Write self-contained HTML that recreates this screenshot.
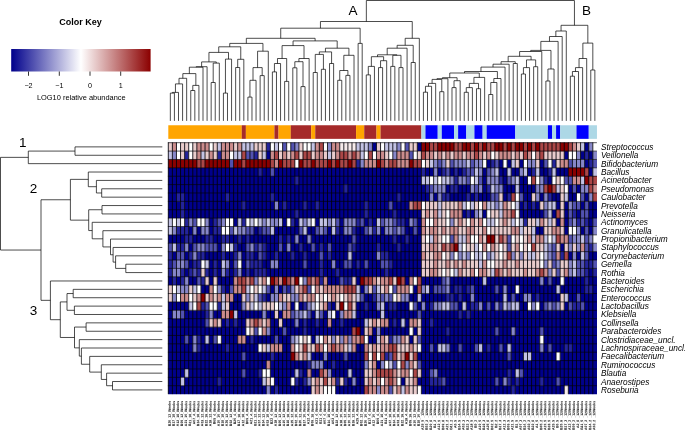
<!DOCTYPE html>
<html><head><meta charset="utf-8"><title>Heatmap</title>
<style>
html,body{margin:0;padding:0;background:#fff;}
body{width:685px;height:431px;position:relative;overflow:hidden;font-family:"Liberation Sans",sans-serif;color:#000;}
.t{position:absolute;white-space:nowrap;line-height:1;}
.rl{position:absolute;left:600.9px;font-style:italic;font-size:8.3px;line-height:10px;height:10px;white-space:nowrap;}
.cl{position:absolute;top:400.9px;font-size:3.3px;line-height:1;white-space:nowrap;transform-origin:0 0;transform:rotate(-90deg) translate(-100%,-50%);font-weight:bold;color:#111;}
</style></head><body>
<svg width="685" height="431" viewBox="0 0 685 431" style="position:absolute;left:0;top:0">
<defs><linearGradient id="kg" x1="0" x2="1" y1="0" y2="0"><stop offset="0" stop-color="#00008b"/><stop offset="0.5" stop-color="#ffffff"/><stop offset="1" stop-color="#8b0000"/></linearGradient></defs>
<rect x="11.2" y="49" width="139.4" height="22.5" fill="url(#kg)"/>
<path d="M28.5 71.5V75.8M59.3 71.5V75.8M90.0 71.5V75.8M120.7 71.5V75.8" stroke="#000" stroke-width="0.8" fill="none"/>
<path d="M372.3 142.6h4.3v8.6h-4.3zM417.2 142.6h4.3v8.6h-4.3zM584.6 142.6h4.3v8.6h-4.3zM266.2 151.0h4.3v8.6h-4.3zM564.1 151.0h4.3v8.6h-4.3zM580.5 151.0h4.3v8.6h-4.3zM588.6 151.0h4.3v8.6h-4.3zM486.6 159.4h4.3v8.6h-4.3zM498.8 159.4h4.3v8.6h-4.3zM507.0 159.4h4.3v8.6h-4.3zM519.2 159.4h4.3v8.6h-4.3zM539.7 159.4h4.3v8.6h-4.3zM584.6 159.4h4.3v8.6h-4.3zM168.2 167.7h90.0v8.6h-90.0zM262.1 167.7h8.4v8.6h-8.4zM274.3 167.7h147.1v8.6h-147.1zM425.4 167.7h8.4v8.6h-8.4zM437.6 167.7h4.3v8.6h-4.3zM449.9 167.7h4.3v8.6h-4.3zM458.0 167.7h4.3v8.6h-4.3zM482.5 167.7h4.3v8.6h-4.3zM498.8 167.7h8.4v8.6h-8.4zM511.1 167.7h8.4v8.6h-8.4zM527.4 167.7h4.3v8.6h-4.3zM539.7 167.7h8.4v8.6h-8.4zM556.0 167.7h12.4v8.6h-12.4zM588.6 167.7h4.3v8.6h-4.3zM168.2 176.1h126.7v8.6h-126.7zM298.8 176.1h122.7v8.6h-122.7zM482.5 176.1h4.3v8.6h-4.3zM502.9 176.1h4.3v8.6h-4.3zM519.2 176.1h8.4v8.6h-8.4zM547.8 176.1h4.3v8.6h-4.3zM168.2 184.5h175.7v8.6h-175.7zM347.8 184.5h77.8v8.6h-77.8zM445.8 184.5h4.3v8.6h-4.3zM458.0 184.5h12.4v8.6h-12.4zM482.5 184.5h4.3v8.6h-4.3zM502.9 184.5h12.4v8.6h-12.4zM519.2 184.5h16.5v8.6h-16.5zM568.2 184.5h4.3v8.6h-4.3zM576.4 184.5h4.3v8.6h-4.3zM168.2 192.9h8.4v8.6h-8.4zM184.5 192.9h41.0v8.6h-41.0zM229.4 192.9h41.0v8.6h-41.0zM274.3 192.9h122.7v8.6h-122.7zM400.9 192.9h28.8v8.6h-28.8zM433.5 192.9h4.3v8.6h-4.3zM449.9 192.9h16.5v8.6h-16.5zM470.3 192.9h4.3v8.6h-4.3zM478.4 192.9h12.4v8.6h-12.4zM502.9 192.9h4.3v8.6h-4.3zM523.3 192.9h8.4v8.6h-8.4zM539.7 192.9h4.3v8.6h-4.3zM551.9 192.9h8.4v8.6h-8.4zM568.2 192.9h8.4v8.6h-8.4zM584.6 192.9h4.3v8.6h-4.3zM168.2 201.3h12.4v8.6h-12.4zM184.5 201.3h57.3v8.6h-57.3zM245.8 201.3h28.8v8.6h-28.8zM278.4 201.3h4.3v8.6h-4.3zM286.6 201.3h16.5v8.6h-16.5zM307.0 201.3h8.4v8.6h-8.4zM319.2 201.3h45.1v8.6h-45.1zM368.2 201.3h20.6v8.6h-20.6zM392.7 201.3h16.5v8.6h-16.5zM519.2 201.3h4.3v8.6h-4.3zM527.4 201.3h4.3v8.6h-4.3zM535.6 201.3h4.3v8.6h-4.3zM556.0 201.3h4.3v8.6h-4.3zM564.1 201.3h4.3v8.6h-4.3zM580.5 201.3h4.3v8.6h-4.3zM588.6 201.3h8.4v8.6h-8.4zM168.2 209.6h12.4v8.6h-12.4zM184.5 209.6h110.4v8.6h-110.4zM298.8 209.6h65.5v8.6h-65.5zM368.2 209.6h24.7v8.6h-24.7zM396.8 209.6h24.7v8.6h-24.7zM462.1 209.6h4.3v8.6h-4.3zM470.3 209.6h4.3v8.6h-4.3zM482.5 209.6h4.3v8.6h-4.3zM519.2 209.6h24.7v8.6h-24.7zM551.9 209.6h4.3v8.6h-4.3zM564.1 209.6h4.3v8.6h-4.3zM576.4 209.6h4.3v8.6h-4.3zM588.6 209.6h8.4v8.6h-8.4zM209.0 218.0h4.3v8.6h-4.3zM233.5 218.0h4.3v8.6h-4.3zM282.5 218.0h4.3v8.6h-4.3zM294.7 218.0h4.3v8.6h-4.3zM315.1 218.0h4.3v8.6h-4.3zM339.6 218.0h4.3v8.6h-4.3zM364.1 218.0h4.3v8.6h-4.3zM372.3 218.0h4.3v8.6h-4.3zM405.0 218.0h4.3v8.6h-4.3zM417.2 218.0h4.3v8.6h-4.3zM556.0 218.0h4.3v8.6h-4.3zM564.1 218.0h4.3v8.6h-4.3zM588.6 218.0h4.3v8.6h-4.3zM188.6 226.4h4.3v8.6h-4.3zM196.8 226.4h4.3v8.6h-4.3zM209.0 226.4h4.3v8.6h-4.3zM253.9 226.4h4.3v8.6h-4.3zM274.3 226.4h24.7v8.6h-24.7zM307.0 226.4h8.4v8.6h-8.4zM327.4 226.4h4.3v8.6h-4.3zM339.6 226.4h4.3v8.6h-4.3zM356.0 226.4h8.4v8.6h-8.4zM380.5 226.4h4.3v8.6h-4.3zM405.0 226.4h8.4v8.6h-8.4zM417.2 226.4h4.3v8.6h-4.3zM535.6 226.4h8.4v8.6h-8.4zM564.1 226.4h4.3v8.6h-4.3zM580.5 226.4h4.3v8.6h-4.3zM588.6 226.4h4.3v8.6h-4.3zM168.2 234.8h16.5v8.6h-16.5zM192.7 234.8h12.4v8.6h-12.4zM213.1 234.8h8.4v8.6h-8.4zM229.4 234.8h8.4v8.6h-8.4zM241.7 234.8h4.3v8.6h-4.3zM249.8 234.8h28.8v8.6h-28.8zM282.5 234.8h4.3v8.6h-4.3zM290.7 234.8h4.3v8.6h-4.3zM298.8 234.8h8.4v8.6h-8.4zM311.1 234.8h41.0v8.6h-41.0zM356.0 234.8h36.9v8.6h-36.9zM396.8 234.8h8.4v8.6h-8.4zM409.0 234.8h12.4v8.6h-12.4zM188.6 243.2h4.3v8.6h-4.3zM217.2 243.2h4.3v8.6h-4.3zM237.6 243.2h8.4v8.6h-8.4zM266.2 243.2h12.4v8.6h-12.4zM282.5 243.2h4.3v8.6h-4.3zM290.7 243.2h8.4v8.6h-8.4zM302.9 243.2h8.4v8.6h-8.4zM315.1 243.2h4.3v8.6h-4.3zM323.3 243.2h4.3v8.6h-4.3zM331.5 243.2h16.5v8.6h-16.5zM356.0 243.2h20.6v8.6h-20.6zM380.5 243.2h16.5v8.6h-16.5zM400.9 243.2h20.6v8.6h-20.6zM560.1 243.2h4.3v8.6h-4.3zM172.3 251.5h4.3v8.6h-4.3zM184.5 251.5h4.3v8.6h-4.3zM204.9 251.5h16.5v8.6h-16.5zM225.3 251.5h8.4v8.6h-8.4zM241.7 251.5h4.3v8.6h-4.3zM253.9 251.5h4.3v8.6h-4.3zM266.2 251.5h8.4v8.6h-8.4zM278.4 251.5h12.4v8.6h-12.4zM294.7 251.5h8.4v8.6h-8.4zM307.0 251.5h12.4v8.6h-12.4zM323.3 251.5h4.3v8.6h-4.3zM331.5 251.5h16.5v8.6h-16.5zM351.9 251.5h24.7v8.6h-24.7zM388.6 251.5h32.9v8.6h-32.9zM568.2 251.5h4.3v8.6h-4.3zM576.4 251.5h4.3v8.6h-4.3zM588.6 251.5h8.4v8.6h-8.4zM188.6 259.9h4.3v8.6h-4.3zM209.0 259.9h4.3v8.6h-4.3zM217.2 259.9h4.3v8.6h-4.3zM229.4 259.9h4.3v8.6h-4.3zM241.7 259.9h4.3v8.6h-4.3zM262.1 259.9h8.4v8.6h-8.4zM278.4 259.9h24.7v8.6h-24.7zM307.0 259.9h12.4v8.6h-12.4zM323.3 259.9h8.4v8.6h-8.4zM335.6 259.9h8.4v8.6h-8.4zM351.9 259.9h4.3v8.6h-4.3zM360.0 259.9h4.3v8.6h-4.3zM368.2 259.9h12.4v8.6h-12.4zM392.7 259.9h28.8v8.6h-28.8zM184.5 268.3h4.3v8.6h-4.3zM209.0 268.3h4.3v8.6h-4.3zM217.2 268.3h4.3v8.6h-4.3zM229.4 268.3h4.3v8.6h-4.3zM241.7 268.3h4.3v8.6h-4.3zM249.8 268.3h4.3v8.6h-4.3zM266.2 268.3h53.3v8.6h-53.3zM323.3 268.3h12.4v8.6h-12.4zM339.6 268.3h45.1v8.6h-45.1zM388.6 268.3h32.9v8.6h-32.9zM588.6 268.3h4.3v8.6h-4.3zM168.2 276.7h4.3v8.6h-4.3zM176.4 276.7h4.3v8.6h-4.3zM188.6 276.7h8.4v8.6h-8.4zM209.0 276.7h4.3v8.6h-4.3zM217.2 276.7h16.5v8.6h-16.5zM327.4 276.7h12.4v8.6h-12.4zM356.0 276.7h4.3v8.6h-4.3zM405.0 276.7h4.3v8.6h-4.3zM421.3 276.7h20.6v8.6h-20.6zM449.9 276.7h32.9v8.6h-32.9zM486.6 276.7h53.3v8.6h-53.3zM543.7 276.7h4.3v8.6h-4.3zM551.9 276.7h8.4v8.6h-8.4zM564.1 276.7h20.6v8.6h-20.6zM588.6 276.7h8.4v8.6h-8.4zM200.9 285.1h8.4v8.6h-8.4zM225.3 285.1h4.3v8.6h-4.3zM270.2 285.1h4.3v8.6h-4.3zM278.4 285.1h4.3v8.6h-4.3zM360.0 285.1h4.3v8.6h-4.3zM413.1 285.1h4.3v8.6h-4.3zM429.4 285.1h4.3v8.6h-4.3zM449.9 285.1h4.3v8.6h-4.3zM462.1 285.1h4.3v8.6h-4.3zM474.3 285.1h20.6v8.6h-20.6zM498.8 285.1h4.3v8.6h-4.3zM507.0 285.1h8.4v8.6h-8.4zM519.2 285.1h36.9v8.6h-36.9zM560.1 285.1h24.7v8.6h-24.7zM592.7 285.1h4.3v8.6h-4.3zM233.5 293.4h8.4v8.6h-8.4zM266.2 293.4h4.3v8.6h-4.3zM364.1 293.4h8.4v8.6h-8.4zM409.0 293.4h8.4v8.6h-8.4zM421.3 293.4h24.7v8.6h-24.7zM453.9 293.4h4.3v8.6h-4.3zM462.1 293.4h8.4v8.6h-8.4zM474.3 293.4h28.8v8.6h-28.8zM507.0 293.4h4.3v8.6h-4.3zM515.2 293.4h8.4v8.6h-8.4zM531.5 293.4h4.3v8.6h-4.3zM539.7 293.4h20.6v8.6h-20.6zM568.2 293.4h8.4v8.6h-8.4zM580.5 293.4h16.5v8.6h-16.5zM168.2 301.8h20.6v8.6h-20.6zM229.4 301.8h12.4v8.6h-12.4zM290.7 301.8h4.3v8.6h-4.3zM298.8 301.8h4.3v8.6h-4.3zM331.5 301.8h4.3v8.6h-4.3zM356.0 301.8h8.4v8.6h-8.4zM368.2 301.8h8.4v8.6h-8.4zM384.5 301.8h4.3v8.6h-4.3zM396.8 301.8h12.4v8.6h-12.4zM417.2 301.8h4.3v8.6h-4.3zM425.4 301.8h4.3v8.6h-4.3zM458.0 301.8h4.3v8.6h-4.3zM466.2 301.8h4.3v8.6h-4.3zM482.5 301.8h4.3v8.6h-4.3zM490.7 301.8h4.3v8.6h-4.3zM519.2 301.8h8.4v8.6h-8.4zM539.7 301.8h4.3v8.6h-4.3zM564.1 301.8h4.3v8.6h-4.3zM584.6 301.8h12.4v8.6h-12.4zM168.2 310.2h4.3v8.6h-4.3zM184.5 310.2h20.6v8.6h-20.6zM213.1 310.2h8.4v8.6h-8.4zM237.6 310.2h24.7v8.6h-24.7zM266.2 310.2h8.4v8.6h-8.4zM278.4 310.2h4.3v8.6h-4.3zM311.1 310.2h4.3v8.6h-4.3zM323.3 310.2h4.3v8.6h-4.3zM335.6 310.2h4.3v8.6h-4.3zM356.0 310.2h24.7v8.6h-24.7zM384.5 310.2h32.9v8.6h-32.9zM421.3 310.2h36.9v8.6h-36.9zM462.1 310.2h4.3v8.6h-4.3zM470.3 310.2h126.7v8.6h-126.7zM168.2 318.6h36.9v8.6h-36.9zM221.3 318.6h4.3v8.6h-4.3zM229.4 318.6h4.3v8.6h-4.3zM237.6 318.6h8.4v8.6h-8.4zM270.2 318.6h8.4v8.6h-8.4zM282.5 318.6h12.4v8.6h-12.4zM298.8 318.6h4.3v8.6h-4.3zM307.0 318.6h8.4v8.6h-8.4zM319.2 318.6h8.4v8.6h-8.4zM331.5 318.6h8.4v8.6h-8.4zM343.7 318.6h20.6v8.6h-20.6zM388.6 318.6h4.3v8.6h-4.3zM396.8 318.6h4.3v8.6h-4.3zM405.0 318.6h4.3v8.6h-4.3zM421.3 318.6h8.4v8.6h-8.4zM433.5 318.6h163.5v8.6h-163.5zM168.2 327.0h77.8v8.6h-77.8zM270.2 327.0h12.4v8.6h-12.4zM286.6 327.0h16.5v8.6h-16.5zM307.0 327.0h45.1v8.6h-45.1zM360.0 327.0h4.3v8.6h-4.3zM372.3 327.0h4.3v8.6h-4.3zM380.5 327.0h28.8v8.6h-28.8zM413.1 327.0h4.3v8.6h-4.3zM421.3 327.0h24.7v8.6h-24.7zM449.9 327.0h45.1v8.6h-45.1zM498.8 327.0h12.4v8.6h-12.4zM515.2 327.0h24.7v8.6h-24.7zM543.7 327.0h53.3v8.6h-53.3zM168.2 335.3h16.5v8.6h-16.5zM188.6 335.3h4.3v8.6h-4.3zM200.9 335.3h4.3v8.6h-4.3zM209.0 335.3h4.3v8.6h-4.3zM221.3 335.3h16.5v8.6h-16.5zM245.8 335.3h4.3v8.6h-4.3zM253.9 335.3h20.6v8.6h-20.6zM278.4 335.3h12.4v8.6h-12.4zM311.1 335.3h4.3v8.6h-4.3zM368.2 335.3h8.4v8.6h-8.4zM409.0 335.3h4.3v8.6h-4.3zM421.3 335.3h118.6v8.6h-118.6zM543.7 335.3h53.3v8.6h-53.3zM168.2 343.7h24.7v8.6h-24.7zM200.9 343.7h24.7v8.6h-24.7zM229.4 343.7h28.8v8.6h-28.8zM282.5 343.7h8.4v8.6h-8.4zM356.0 343.7h8.4v8.6h-8.4zM421.3 343.7h8.4v8.6h-8.4zM433.5 343.7h4.3v8.6h-4.3zM449.9 343.7h8.4v8.6h-8.4zM462.1 343.7h12.4v8.6h-12.4zM482.5 343.7h4.3v8.6h-4.3zM490.7 343.7h8.4v8.6h-8.4zM502.9 343.7h4.3v8.6h-4.3zM511.1 343.7h28.8v8.6h-28.8zM543.7 343.7h4.3v8.6h-4.3zM551.9 343.7h12.4v8.6h-12.4zM572.3 343.7h24.7v8.6h-24.7zM168.2 352.1h73.7v8.6h-73.7zM245.8 352.1h24.7v8.6h-24.7zM274.3 352.1h16.5v8.6h-16.5zM311.1 352.1h12.4v8.6h-12.4zM327.4 352.1h16.5v8.6h-16.5zM347.8 352.1h16.5v8.6h-16.5zM417.2 352.1h90.0v8.6h-90.0zM511.1 352.1h12.4v8.6h-12.4zM531.5 352.1h24.7v8.6h-24.7zM560.1 352.1h36.9v8.6h-36.9zM168.2 360.5h98.2v8.6h-98.2zM270.2 360.5h36.9v8.6h-36.9zM323.3 360.5h8.4v8.6h-8.4zM335.6 360.5h28.8v8.6h-28.8zM376.4 360.5h4.3v8.6h-4.3zM421.3 360.5h175.7v8.6h-175.7zM168.2 368.9h16.5v8.6h-16.5zM188.6 368.9h53.3v8.6h-53.3zM245.8 368.9h12.4v8.6h-12.4zM270.2 368.9h24.7v8.6h-24.7zM302.9 368.9h4.3v8.6h-4.3zM311.1 368.9h8.4v8.6h-8.4zM331.5 368.9h16.5v8.6h-16.5zM351.9 368.9h12.4v8.6h-12.4zM421.3 368.9h8.4v8.6h-8.4zM437.6 368.9h69.6v8.6h-69.6zM511.1 368.9h4.3v8.6h-4.3zM523.3 368.9h73.7v8.6h-73.7zM168.2 377.2h12.4v8.6h-12.4zM184.5 377.2h32.9v8.6h-32.9zM221.3 377.2h41.0v8.6h-41.0zM274.3 377.2h16.5v8.6h-16.5zM298.8 377.2h4.3v8.6h-4.3zM347.8 377.2h4.3v8.6h-4.3zM356.0 377.2h8.4v8.6h-8.4zM400.9 377.2h4.3v8.6h-4.3zM417.2 377.2h12.4v8.6h-12.4zM445.8 377.2h49.2v8.6h-49.2zM498.8 377.2h4.3v8.6h-4.3zM511.1 377.2h4.3v8.6h-4.3zM519.2 377.2h20.6v8.6h-20.6zM543.7 377.2h12.4v8.6h-12.4zM560.1 377.2h36.9v8.6h-36.9zM168.2 385.6h98.2v8.6h-98.2zM270.2 385.6h4.3v8.6h-4.3zM278.4 385.6h32.9v8.6h-32.9zM335.6 385.6h28.8v8.6h-28.8zM421.3 385.6h90.0v8.6h-90.0zM515.2 385.6h49.2v8.6h-49.2zM568.2 385.6h28.8v8.6h-28.8z" fill="#00008b"/>
<path d="M266.2 142.6h4.3v8.6h-4.3zM184.5 151.0h4.3v8.6h-4.3zM217.2 151.0h4.3v8.6h-4.3zM253.9 151.0h4.3v8.6h-4.3zM584.6 151.0h4.3v8.6h-4.3zM356.0 159.4h4.3v8.6h-4.3zM490.7 159.4h4.3v8.6h-4.3zM551.9 159.4h4.3v8.6h-4.3zM588.6 159.4h4.3v8.6h-4.3zM258.0 167.7h4.3v8.6h-4.3zM421.3 167.7h4.3v8.6h-4.3zM441.7 167.7h4.3v8.6h-4.3zM453.9 167.7h4.3v8.6h-4.3zM462.1 167.7h4.3v8.6h-4.3zM531.5 167.7h4.3v8.6h-4.3zM547.8 167.7h4.3v8.6h-4.3zM294.7 176.1h4.3v8.6h-4.3zM453.9 176.1h4.3v8.6h-4.3zM498.8 176.1h4.3v8.6h-4.3zM543.7 176.1h4.3v8.6h-4.3zM343.7 184.5h4.3v8.6h-4.3zM425.4 184.5h4.3v8.6h-4.3zM449.9 184.5h8.4v8.6h-8.4zM486.6 184.5h4.3v8.6h-4.3zM176.4 192.9h8.4v8.6h-8.4zM225.3 192.9h4.3v8.6h-4.3zM270.2 192.9h4.3v8.6h-4.3zM396.8 192.9h4.3v8.6h-4.3zM441.7 192.9h8.4v8.6h-8.4zM466.2 192.9h4.3v8.6h-4.3zM474.3 192.9h4.3v8.6h-4.3zM507.0 192.9h4.3v8.6h-4.3zM547.8 192.9h4.3v8.6h-4.3zM180.4 201.3h4.3v8.6h-4.3zM241.7 201.3h4.3v8.6h-4.3zM282.5 201.3h4.3v8.6h-4.3zM302.9 201.3h4.3v8.6h-4.3zM315.1 201.3h4.3v8.6h-4.3zM364.1 201.3h4.3v8.6h-4.3zM523.3 201.3h4.3v8.6h-4.3zM531.5 201.3h4.3v8.6h-4.3zM180.4 209.6h4.3v8.6h-4.3zM294.7 209.6h4.3v8.6h-4.3zM364.1 209.6h4.3v8.6h-4.3zM392.7 209.6h4.3v8.6h-4.3zM466.2 209.6h4.3v8.6h-4.3zM572.3 209.6h4.3v8.6h-4.3zM184.5 218.0h4.3v8.6h-4.3zM213.1 218.0h4.3v8.6h-4.3zM241.7 218.0h4.3v8.6h-4.3zM290.7 218.0h4.3v8.6h-4.3zM356.0 218.0h4.3v8.6h-4.3zM368.2 218.0h4.3v8.6h-4.3zM396.8 218.0h8.4v8.6h-8.4zM523.3 218.0h4.3v8.6h-4.3zM576.4 218.0h4.3v8.6h-4.3zM584.6 218.0h4.3v8.6h-4.3zM176.4 226.4h12.4v8.6h-12.4zM213.1 226.4h8.4v8.6h-8.4zM258.0 226.4h4.3v8.6h-4.3zM335.6 226.4h4.3v8.6h-4.3zM351.9 226.4h4.3v8.6h-4.3zM372.3 226.4h4.3v8.6h-4.3zM184.5 234.8h8.4v8.6h-8.4zM204.9 234.8h8.4v8.6h-8.4zM221.3 234.8h8.4v8.6h-8.4zM237.6 234.8h4.3v8.6h-4.3zM245.8 234.8h4.3v8.6h-4.3zM278.4 234.8h4.3v8.6h-4.3zM286.6 234.8h4.3v8.6h-4.3zM392.7 234.8h4.3v8.6h-4.3zM405.0 234.8h4.3v8.6h-4.3zM176.4 243.2h8.4v8.6h-8.4zM233.5 243.2h4.3v8.6h-4.3zM253.9 243.2h4.3v8.6h-4.3zM262.1 243.2h4.3v8.6h-4.3zM298.8 243.2h4.3v8.6h-4.3zM319.2 243.2h4.3v8.6h-4.3zM351.9 243.2h4.3v8.6h-4.3zM376.4 243.2h4.3v8.6h-4.3zM396.8 243.2h4.3v8.6h-4.3zM588.6 243.2h4.3v8.6h-4.3zM168.2 251.5h4.3v8.6h-4.3zM188.6 251.5h4.3v8.6h-4.3zM196.8 251.5h8.4v8.6h-8.4zM221.3 251.5h4.3v8.6h-4.3zM233.5 251.5h4.3v8.6h-4.3zM245.8 251.5h8.4v8.6h-8.4zM262.1 251.5h4.3v8.6h-4.3zM274.3 251.5h4.3v8.6h-4.3zM290.7 251.5h4.3v8.6h-4.3zM302.9 251.5h4.3v8.6h-4.3zM327.4 251.5h4.3v8.6h-4.3zM380.5 251.5h8.4v8.6h-8.4zM560.1 251.5h4.3v8.6h-4.3zM168.2 259.9h4.3v8.6h-4.3zM192.7 259.9h8.4v8.6h-8.4zM213.1 259.9h4.3v8.6h-4.3zM249.8 259.9h12.4v8.6h-12.4zM319.2 259.9h4.3v8.6h-4.3zM356.0 259.9h4.3v8.6h-4.3zM388.6 259.9h4.3v8.6h-4.3zM584.6 259.9h8.4v8.6h-8.4zM168.2 268.3h4.3v8.6h-4.3zM180.4 268.3h4.3v8.6h-4.3zM188.6 268.3h4.3v8.6h-4.3zM196.8 268.3h4.3v8.6h-4.3zM204.9 268.3h4.3v8.6h-4.3zM213.1 268.3h4.3v8.6h-4.3zM225.3 268.3h4.3v8.6h-4.3zM233.5 268.3h4.3v8.6h-4.3zM245.8 268.3h4.3v8.6h-4.3zM253.9 268.3h12.4v8.6h-12.4zM319.2 268.3h4.3v8.6h-4.3zM335.6 268.3h4.3v8.6h-4.3zM384.5 268.3h4.3v8.6h-4.3zM584.6 268.3h4.3v8.6h-4.3zM592.7 268.3h4.3v8.6h-4.3zM172.3 276.7h4.3v8.6h-4.3zM180.4 276.7h4.3v8.6h-4.3zM200.9 276.7h4.3v8.6h-4.3zM319.2 276.7h4.3v8.6h-4.3zM343.7 276.7h8.4v8.6h-8.4zM584.6 276.7h4.3v8.6h-4.3zM221.3 285.1h4.3v8.6h-4.3zM286.6 285.1h4.3v8.6h-4.3zM453.9 285.1h8.4v8.6h-8.4zM466.2 285.1h4.3v8.6h-4.3zM584.6 285.1h8.4v8.6h-8.4zM262.1 293.4h4.3v8.6h-4.3zM372.3 293.4h4.3v8.6h-4.3zM445.8 293.4h8.4v8.6h-8.4zM458.0 293.4h4.3v8.6h-4.3zM535.6 293.4h4.3v8.6h-4.3zM200.9 301.8h4.3v8.6h-4.3zM217.2 301.8h4.3v8.6h-4.3zM302.9 301.8h4.3v8.6h-4.3zM327.4 301.8h4.3v8.6h-4.3zM364.1 301.8h4.3v8.6h-4.3zM388.6 301.8h8.4v8.6h-8.4zM429.4 301.8h4.3v8.6h-4.3zM470.3 301.8h8.4v8.6h-8.4zM498.8 301.8h4.3v8.6h-4.3zM572.3 301.8h8.4v8.6h-8.4zM204.9 310.2h4.3v8.6h-4.3zM458.0 310.2h4.3v8.6h-4.3zM466.2 310.2h4.3v8.6h-4.3zM225.3 318.6h4.3v8.6h-4.3zM233.5 318.6h4.3v8.6h-4.3zM302.9 318.6h4.3v8.6h-4.3zM315.1 318.6h4.3v8.6h-4.3zM339.6 318.6h4.3v8.6h-4.3zM392.7 318.6h4.3v8.6h-4.3zM429.4 318.6h4.3v8.6h-4.3zM302.9 327.0h4.3v8.6h-4.3zM445.8 327.0h4.3v8.6h-4.3zM196.8 335.3h4.3v8.6h-4.3zM249.8 335.3h4.3v8.6h-4.3zM388.6 335.3h4.3v8.6h-4.3zM196.8 343.7h4.3v8.6h-4.3zM225.3 343.7h4.3v8.6h-4.3zM486.6 343.7h4.3v8.6h-4.3zM564.1 343.7h8.4v8.6h-8.4zM270.2 352.1h4.3v8.6h-4.3zM384.5 352.1h4.3v8.6h-4.3zM307.0 360.5h4.3v8.6h-4.3zM331.5 360.5h4.3v8.6h-4.3zM258.0 368.9h4.3v8.6h-4.3zM298.8 368.9h4.3v8.6h-4.3zM507.0 368.9h4.3v8.6h-4.3zM217.2 377.2h4.3v8.6h-4.3zM294.7 377.2h4.3v8.6h-4.3zM302.9 377.2h4.3v8.6h-4.3zM335.6 377.2h4.3v8.6h-4.3zM343.7 377.2h4.3v8.6h-4.3zM429.4 377.2h12.4v8.6h-12.4zM507.0 377.2h4.3v8.6h-4.3zM515.2 377.2h4.3v8.6h-4.3zM539.7 377.2h4.3v8.6h-4.3zM274.3 385.6h4.3v8.6h-4.3zM511.1 385.6h4.3v8.6h-4.3z" fill="#24249b"/>
<path d="M282.5 142.6h4.3v8.6h-4.3zM290.7 142.6h4.3v8.6h-4.3zM405.0 142.6h4.3v8.6h-4.3zM245.8 151.0h8.4v8.6h-8.4zM409.0 151.0h4.3v8.6h-4.3zM229.4 159.4h4.3v8.6h-4.3zM437.6 159.4h4.3v8.6h-4.3zM449.9 159.4h4.3v8.6h-4.3zM470.3 159.4h4.3v8.6h-4.3zM494.8 159.4h4.3v8.6h-4.3zM543.7 159.4h4.3v8.6h-4.3zM568.2 159.4h4.3v8.6h-4.3zM592.7 159.4h4.3v8.6h-4.3zM270.2 167.7h4.3v8.6h-4.3zM445.8 167.7h4.3v8.6h-4.3zM466.2 167.7h8.4v8.6h-8.4zM486.6 167.7h4.3v8.6h-4.3zM466.2 176.1h4.3v8.6h-4.3zM478.4 176.1h4.3v8.6h-4.3zM507.0 176.1h4.3v8.6h-4.3zM564.1 176.1h8.4v8.6h-8.4zM429.4 184.5h4.3v8.6h-4.3zM474.3 184.5h4.3v8.6h-4.3zM572.3 184.5h4.3v8.6h-4.3zM490.7 192.9h8.4v8.6h-8.4zM519.2 192.9h4.3v8.6h-4.3zM580.5 192.9h4.3v8.6h-4.3zM388.6 201.3h4.3v8.6h-4.3zM572.3 201.3h8.4v8.6h-8.4zM584.6 201.3h4.3v8.6h-4.3zM543.7 209.6h4.3v8.6h-4.3zM568.2 209.6h4.3v8.6h-4.3zM580.5 209.6h8.4v8.6h-8.4zM192.7 218.0h4.3v8.6h-4.3zM217.2 218.0h4.3v8.6h-4.3zM335.6 218.0h4.3v8.6h-4.3zM360.0 218.0h4.3v8.6h-4.3zM380.5 218.0h4.3v8.6h-4.3zM392.7 218.0h4.3v8.6h-4.3zM413.1 218.0h4.3v8.6h-4.3zM568.2 218.0h4.3v8.6h-4.3zM580.5 218.0h4.3v8.6h-4.3zM592.7 218.0h4.3v8.6h-4.3zM229.4 226.4h4.3v8.6h-4.3zM245.8 226.4h8.4v8.6h-8.4zM262.1 226.4h8.4v8.6h-8.4zM298.8 226.4h4.3v8.6h-4.3zM315.1 226.4h4.3v8.6h-4.3zM323.3 226.4h4.3v8.6h-4.3zM364.1 226.4h4.3v8.6h-4.3zM392.7 226.4h4.3v8.6h-4.3zM400.9 226.4h4.3v8.6h-4.3zM413.1 226.4h4.3v8.6h-4.3zM584.6 226.4h4.3v8.6h-4.3zM351.9 234.8h4.3v8.6h-4.3zM449.9 234.8h4.3v8.6h-4.3zM507.0 234.8h4.3v8.6h-4.3zM568.2 234.8h4.3v8.6h-4.3zM584.6 234.8h4.3v8.6h-4.3zM168.2 243.2h4.3v8.6h-4.3zM192.7 243.2h4.3v8.6h-4.3zM204.9 243.2h12.4v8.6h-12.4zM245.8 243.2h4.3v8.6h-4.3zM258.0 243.2h4.3v8.6h-4.3zM278.4 243.2h4.3v8.6h-4.3zM311.1 243.2h4.3v8.6h-4.3zM327.4 243.2h4.3v8.6h-4.3zM347.8 243.2h4.3v8.6h-4.3zM507.0 243.2h4.3v8.6h-4.3zM551.9 243.2h4.3v8.6h-4.3zM584.6 243.2h4.3v8.6h-4.3zM176.4 251.5h8.4v8.6h-8.4zM258.0 251.5h4.3v8.6h-4.3zM319.2 251.5h4.3v8.6h-4.3zM551.9 251.5h4.3v8.6h-4.3zM584.6 251.5h4.3v8.6h-4.3zM172.3 259.9h4.3v8.6h-4.3zM184.5 259.9h4.3v8.6h-4.3zM233.5 259.9h4.3v8.6h-4.3zM245.8 259.9h4.3v8.6h-4.3zM302.9 259.9h4.3v8.6h-4.3zM343.7 259.9h8.4v8.6h-8.4zM364.1 259.9h4.3v8.6h-4.3zM380.5 259.9h8.4v8.6h-8.4zM551.9 259.9h4.3v8.6h-4.3zM576.4 259.9h8.4v8.6h-8.4zM592.7 259.9h4.3v8.6h-4.3zM192.7 268.3h4.3v8.6h-4.3zM556.0 268.3h4.3v8.6h-4.3zM576.4 268.3h8.4v8.6h-8.4zM196.8 276.7h4.3v8.6h-4.3zM339.6 276.7h4.3v8.6h-4.3zM441.7 276.7h4.3v8.6h-4.3zM547.8 276.7h4.3v8.6h-4.3zM229.4 285.1h4.3v8.6h-4.3zM266.2 285.1h4.3v8.6h-4.3zM282.5 285.1h4.3v8.6h-4.3zM307.0 285.1h4.3v8.6h-4.3zM372.3 285.1h4.3v8.6h-4.3zM392.7 285.1h4.3v8.6h-4.3zM433.5 285.1h12.4v8.6h-12.4zM470.3 285.1h4.3v8.6h-4.3zM494.8 285.1h4.3v8.6h-4.3zM258.0 293.4h4.3v8.6h-4.3zM360.0 293.4h4.3v8.6h-4.3zM380.5 293.4h4.3v8.6h-4.3zM388.6 293.4h4.3v8.6h-4.3zM511.1 293.4h4.3v8.6h-4.3zM576.4 293.4h4.3v8.6h-4.3zM204.9 301.8h4.3v8.6h-4.3zM413.1 301.8h4.3v8.6h-4.3zM449.9 301.8h8.4v8.6h-8.4zM486.6 301.8h4.3v8.6h-4.3zM543.7 301.8h4.3v8.6h-4.3zM551.9 301.8h4.3v8.6h-4.3zM568.2 301.8h4.3v8.6h-4.3zM580.5 301.8h4.3v8.6h-4.3zM180.4 310.2h4.3v8.6h-4.3zM290.7 310.2h4.3v8.6h-4.3zM307.0 310.2h4.3v8.6h-4.3zM319.2 310.2h4.3v8.6h-4.3zM417.2 310.2h4.3v8.6h-4.3zM204.9 318.6h4.3v8.6h-4.3zM253.9 327.0h4.3v8.6h-4.3zM282.5 327.0h4.3v8.6h-4.3zM494.8 327.0h4.3v8.6h-4.3zM539.7 327.0h4.3v8.6h-4.3zM184.5 335.3h4.3v8.6h-4.3zM213.1 335.3h4.3v8.6h-4.3zM274.3 335.3h4.3v8.6h-4.3zM417.2 335.3h4.3v8.6h-4.3zM429.4 343.7h4.3v8.6h-4.3zM458.0 343.7h4.3v8.6h-4.3zM474.3 343.7h4.3v8.6h-4.3zM498.8 343.7h4.3v8.6h-4.3zM547.8 343.7h4.3v8.6h-4.3zM241.7 352.1h4.3v8.6h-4.3zM343.7 352.1h4.3v8.6h-4.3zM388.6 352.1h4.3v8.6h-4.3zM507.0 352.1h4.3v8.6h-4.3zM392.7 360.5h4.3v8.6h-4.3zM417.2 360.5h4.3v8.6h-4.3zM241.7 368.9h4.3v8.6h-4.3zM429.4 368.9h4.3v8.6h-4.3zM519.2 368.9h4.3v8.6h-4.3zM441.7 377.2h4.3v8.6h-4.3zM494.8 377.2h4.3v8.6h-4.3zM556.0 377.2h4.3v8.6h-4.3zM388.6 385.6h4.3v8.6h-4.3z" fill="#5252b0"/>
<path d="M294.7 142.6h4.3v8.6h-4.3zM327.4 142.6h4.3v8.6h-4.3zM368.2 142.6h4.3v8.6h-4.3zM396.8 142.6h4.3v8.6h-4.3zM588.6 142.6h4.3v8.6h-4.3zM172.3 151.0h4.3v8.6h-4.3zM392.7 151.0h4.3v8.6h-4.3zM576.4 151.0h4.3v8.6h-4.3zM592.7 151.0h4.3v8.6h-4.3zM360.0 159.4h4.3v8.6h-4.3zM433.5 159.4h4.3v8.6h-4.3zM441.7 159.4h4.3v8.6h-4.3zM453.9 159.4h12.4v8.6h-12.4zM474.3 159.4h8.4v8.6h-8.4zM527.4 159.4h8.4v8.6h-8.4zM572.3 159.4h12.4v8.6h-12.4zM433.5 167.7h4.3v8.6h-4.3zM478.4 167.7h4.3v8.6h-4.3zM490.7 167.7h4.3v8.6h-4.3zM519.2 167.7h4.3v8.6h-4.3zM449.9 176.1h4.3v8.6h-4.3zM458.0 176.1h8.4v8.6h-8.4zM486.6 176.1h12.4v8.6h-12.4zM511.1 176.1h4.3v8.6h-4.3zM539.7 176.1h4.3v8.6h-4.3zM433.5 184.5h12.4v8.6h-12.4zM470.3 184.5h4.3v8.6h-4.3zM478.4 184.5h4.3v8.6h-4.3zM494.8 184.5h8.4v8.6h-8.4zM535.6 184.5h8.4v8.6h-8.4zM580.5 184.5h8.4v8.6h-8.4zM429.4 192.9h4.3v8.6h-4.3zM437.6 192.9h4.3v8.6h-4.3zM535.6 192.9h4.3v8.6h-4.3zM543.7 192.9h4.3v8.6h-4.3zM588.6 192.9h4.3v8.6h-4.3zM274.3 201.3h4.3v8.6h-4.3zM494.8 201.3h4.3v8.6h-4.3zM543.7 201.3h4.3v8.6h-4.3zM568.2 201.3h4.3v8.6h-4.3zM474.3 209.6h4.3v8.6h-4.3zM188.6 218.0h4.3v8.6h-4.3zM204.9 218.0h4.3v8.6h-4.3zM221.3 218.0h4.3v8.6h-4.3zM262.1 218.0h4.3v8.6h-4.3zM270.2 218.0h8.4v8.6h-8.4zM302.9 218.0h4.3v8.6h-4.3zM327.4 218.0h4.3v8.6h-4.3zM343.7 218.0h12.4v8.6h-12.4zM384.5 218.0h8.4v8.6h-8.4zM409.0 218.0h4.3v8.6h-4.3zM449.9 218.0h4.3v8.6h-4.3zM572.3 218.0h4.3v8.6h-4.3zM172.3 226.4h4.3v8.6h-4.3zM192.7 226.4h4.3v8.6h-4.3zM200.9 226.4h8.4v8.6h-8.4zM237.6 226.4h8.4v8.6h-8.4zM319.2 226.4h4.3v8.6h-4.3zM343.7 226.4h8.4v8.6h-8.4zM368.2 226.4h4.3v8.6h-4.3zM376.4 226.4h4.3v8.6h-4.3zM384.5 226.4h8.4v8.6h-8.4zM396.8 226.4h4.3v8.6h-4.3zM576.4 226.4h4.3v8.6h-4.3zM592.7 226.4h4.3v8.6h-4.3zM294.7 234.8h4.3v8.6h-4.3zM307.0 234.8h4.3v8.6h-4.3zM572.3 234.8h8.4v8.6h-8.4zM588.6 234.8h4.3v8.6h-4.3zM184.5 243.2h4.3v8.6h-4.3zM196.8 243.2h8.4v8.6h-8.4zM221.3 243.2h4.3v8.6h-4.3zM249.8 243.2h4.3v8.6h-4.3zM286.6 243.2h4.3v8.6h-4.3zM547.8 243.2h4.3v8.6h-4.3zM568.2 243.2h4.3v8.6h-4.3zM576.4 243.2h4.3v8.6h-4.3zM592.7 243.2h4.3v8.6h-4.3zM192.7 251.5h4.3v8.6h-4.3zM237.6 251.5h4.3v8.6h-4.3zM376.4 251.5h4.3v8.6h-4.3zM449.9 251.5h4.3v8.6h-4.3zM458.0 251.5h4.3v8.6h-4.3zM466.2 251.5h4.3v8.6h-4.3zM486.6 251.5h4.3v8.6h-4.3zM511.1 251.5h4.3v8.6h-4.3zM519.2 251.5h4.3v8.6h-4.3zM547.8 251.5h4.3v8.6h-4.3zM572.3 251.5h4.3v8.6h-4.3zM176.4 259.9h8.4v8.6h-8.4zM225.3 259.9h4.3v8.6h-4.3zM270.2 259.9h8.4v8.6h-8.4zM331.5 259.9h4.3v8.6h-4.3zM543.7 259.9h4.3v8.6h-4.3zM556.0 259.9h4.3v8.6h-4.3zM568.2 259.9h4.3v8.6h-4.3zM172.3 268.3h8.4v8.6h-8.4zM221.3 268.3h4.3v8.6h-4.3zM237.6 268.3h4.3v8.6h-4.3zM547.8 268.3h4.3v8.6h-4.3zM568.2 268.3h4.3v8.6h-4.3zM184.5 276.7h4.3v8.6h-4.3zM253.9 276.7h4.3v8.6h-4.3zM302.9 276.7h4.3v8.6h-4.3zM445.8 276.7h4.3v8.6h-4.3zM539.7 276.7h4.3v8.6h-4.3zM180.4 285.1h8.4v8.6h-8.4zM217.2 285.1h4.3v8.6h-4.3zM274.3 285.1h4.3v8.6h-4.3zM290.7 285.1h4.3v8.6h-4.3zM364.1 285.1h4.3v8.6h-4.3zM421.3 285.1h4.3v8.6h-4.3zM445.8 285.1h4.3v8.6h-4.3zM502.9 285.1h4.3v8.6h-4.3zM172.3 293.4h4.3v8.6h-4.3zM245.8 293.4h4.3v8.6h-4.3zM270.2 293.4h8.4v8.6h-8.4zM290.7 293.4h8.4v8.6h-8.4zM376.4 293.4h4.3v8.6h-4.3zM384.5 293.4h4.3v8.6h-4.3zM400.9 293.4h8.4v8.6h-8.4zM470.3 293.4h4.3v8.6h-4.3zM523.3 293.4h8.4v8.6h-8.4zM241.7 301.8h4.3v8.6h-4.3zM282.5 301.8h4.3v8.6h-4.3zM307.0 301.8h4.3v8.6h-4.3zM376.4 301.8h4.3v8.6h-4.3zM421.3 301.8h4.3v8.6h-4.3zM433.5 301.8h8.4v8.6h-8.4zM478.4 301.8h4.3v8.6h-4.3zM494.8 301.8h4.3v8.6h-4.3zM507.0 301.8h4.3v8.6h-4.3zM531.5 301.8h4.3v8.6h-4.3zM547.8 301.8h4.3v8.6h-4.3zM556.0 301.8h4.3v8.6h-4.3zM172.3 310.2h8.4v8.6h-8.4zM209.0 310.2h4.3v8.6h-4.3zM262.1 310.2h4.3v8.6h-4.3zM294.7 310.2h8.4v8.6h-8.4zM339.6 310.2h4.3v8.6h-4.3zM294.7 318.6h4.3v8.6h-4.3zM266.2 327.0h4.3v8.6h-4.3zM376.4 327.0h4.3v8.6h-4.3zM511.1 327.0h4.3v8.6h-4.3zM192.7 335.3h4.3v8.6h-4.3zM290.7 335.3h4.3v8.6h-4.3zM331.5 335.3h4.3v8.6h-4.3zM339.6 335.3h4.3v8.6h-4.3zM347.8 335.3h4.3v8.6h-4.3zM392.7 335.3h8.4v8.6h-8.4zM192.7 343.7h4.3v8.6h-4.3zM445.8 343.7h4.3v8.6h-4.3zM539.7 343.7h4.3v8.6h-4.3zM323.3 352.1h4.3v8.6h-4.3zM311.1 360.5h12.4v8.6h-12.4zM364.1 360.5h4.3v8.6h-4.3zM380.5 360.5h4.3v8.6h-4.3zM405.0 360.5h4.3v8.6h-4.3zM327.4 368.9h4.3v8.6h-4.3zM433.5 368.9h4.3v8.6h-4.3zM307.0 377.2h4.3v8.6h-4.3zM351.9 377.2h4.3v8.6h-4.3zM502.9 377.2h4.3v8.6h-4.3zM266.2 385.6h4.3v8.6h-4.3zM376.4 385.6h4.3v8.6h-4.3z" fill="#8787c8"/>
<path d="M217.2 142.6h4.3v8.6h-4.3zM241.7 142.6h12.4v8.6h-12.4zM274.3 142.6h4.3v8.6h-4.3zM311.1 142.6h4.3v8.6h-4.3zM356.0 142.6h12.4v8.6h-12.4zM384.5 142.6h12.4v8.6h-12.4zM580.5 142.6h4.3v8.6h-4.3zM168.2 151.0h4.3v8.6h-4.3zM200.9 151.0h4.3v8.6h-4.3zM233.5 151.0h8.4v8.6h-8.4zM262.1 151.0h4.3v8.6h-4.3zM327.4 151.0h4.3v8.6h-4.3zM360.0 151.0h4.3v8.6h-4.3zM429.4 159.4h4.3v8.6h-4.3zM466.2 159.4h4.3v8.6h-4.3zM511.1 159.4h4.3v8.6h-4.3zM474.3 167.7h4.3v8.6h-4.3zM494.8 167.7h4.3v8.6h-4.3zM507.0 167.7h4.3v8.6h-4.3zM523.3 167.7h4.3v8.6h-4.3zM535.6 167.7h4.3v8.6h-4.3zM551.9 167.7h4.3v8.6h-4.3zM592.7 167.7h4.3v8.6h-4.3zM421.3 176.1h8.4v8.6h-8.4zM433.5 176.1h4.3v8.6h-4.3zM441.7 176.1h8.4v8.6h-8.4zM474.3 176.1h4.3v8.6h-4.3zM515.2 176.1h4.3v8.6h-4.3zM580.5 176.1h4.3v8.6h-4.3zM490.7 184.5h4.3v8.6h-4.3zM515.2 184.5h4.3v8.6h-4.3zM556.0 184.5h4.3v8.6h-4.3zM564.1 192.9h4.3v8.6h-4.3zM437.6 201.3h4.3v8.6h-4.3zM462.1 201.3h4.3v8.6h-4.3zM470.3 201.3h4.3v8.6h-4.3zM486.6 201.3h8.4v8.6h-8.4zM498.8 201.3h4.3v8.6h-4.3zM515.2 201.3h4.3v8.6h-4.3zM547.8 201.3h8.4v8.6h-8.4zM437.6 209.6h4.3v8.6h-4.3zM478.4 209.6h4.3v8.6h-4.3zM498.8 209.6h4.3v8.6h-4.3zM547.8 209.6h4.3v8.6h-4.3zM168.2 218.0h4.3v8.6h-4.3zM176.4 218.0h4.3v8.6h-4.3zM237.6 218.0h4.3v8.6h-4.3zM249.8 218.0h4.3v8.6h-4.3zM258.0 218.0h4.3v8.6h-4.3zM266.2 218.0h4.3v8.6h-4.3zM278.4 218.0h4.3v8.6h-4.3zM298.8 218.0h4.3v8.6h-4.3zM307.0 218.0h4.3v8.6h-4.3zM319.2 218.0h8.4v8.6h-8.4zM331.5 218.0h4.3v8.6h-4.3zM376.4 218.0h4.3v8.6h-4.3zM486.6 218.0h8.4v8.6h-8.4zM511.1 218.0h4.3v8.6h-4.3zM519.2 218.0h4.3v8.6h-4.3zM535.6 218.0h4.3v8.6h-4.3zM547.8 218.0h4.3v8.6h-4.3zM168.2 226.4h4.3v8.6h-4.3zM233.5 226.4h4.3v8.6h-4.3zM270.2 226.4h4.3v8.6h-4.3zM302.9 226.4h4.3v8.6h-4.3zM331.5 226.4h4.3v8.6h-4.3zM519.2 226.4h4.3v8.6h-4.3zM531.5 226.4h4.3v8.6h-4.3zM429.4 234.8h4.3v8.6h-4.3zM458.0 234.8h8.4v8.6h-8.4zM531.5 234.8h4.3v8.6h-4.3zM543.7 234.8h4.3v8.6h-4.3zM551.9 234.8h4.3v8.6h-4.3zM580.5 234.8h4.3v8.6h-4.3zM172.3 243.2h4.3v8.6h-4.3zM229.4 243.2h4.3v8.6h-4.3zM458.0 243.2h4.3v8.6h-4.3zM474.3 243.2h4.3v8.6h-4.3zM543.7 243.2h4.3v8.6h-4.3zM347.8 251.5h4.3v8.6h-4.3zM462.1 251.5h4.3v8.6h-4.3zM474.3 251.5h8.4v8.6h-8.4zM490.7 251.5h4.3v8.6h-4.3zM527.4 251.5h8.4v8.6h-8.4zM543.7 251.5h4.3v8.6h-4.3zM580.5 251.5h4.3v8.6h-4.3zM204.9 259.9h4.3v8.6h-4.3zM221.3 259.9h4.3v8.6h-4.3zM478.4 259.9h4.3v8.6h-4.3zM572.3 259.9h4.3v8.6h-4.3zM453.9 268.3h4.3v8.6h-4.3zM490.7 268.3h4.3v8.6h-4.3zM572.3 268.3h4.3v8.6h-4.3zM482.5 276.7h4.3v8.6h-4.3zM176.4 285.1h4.3v8.6h-4.3zM192.7 285.1h4.3v8.6h-4.3zM245.8 285.1h4.3v8.6h-4.3zM262.1 285.1h4.3v8.6h-4.3zM356.0 285.1h4.3v8.6h-4.3zM376.4 285.1h4.3v8.6h-4.3zM425.4 285.1h4.3v8.6h-4.3zM556.0 285.1h4.3v8.6h-4.3zM221.3 293.4h4.3v8.6h-4.3zM253.9 293.4h4.3v8.6h-4.3zM356.0 293.4h4.3v8.6h-4.3zM417.2 293.4h4.3v8.6h-4.3zM502.9 293.4h4.3v8.6h-4.3zM564.1 293.4h4.3v8.6h-4.3zM188.6 301.8h4.3v8.6h-4.3zM221.3 301.8h4.3v8.6h-4.3zM249.8 301.8h4.3v8.6h-4.3zM258.0 301.8h4.3v8.6h-4.3zM278.4 301.8h4.3v8.6h-4.3zM311.1 301.8h4.3v8.6h-4.3zM380.5 301.8h4.3v8.6h-4.3zM441.7 301.8h8.4v8.6h-8.4zM462.1 301.8h4.3v8.6h-4.3zM502.9 301.8h4.3v8.6h-4.3zM511.1 301.8h8.4v8.6h-8.4zM233.5 310.2h4.3v8.6h-4.3zM302.9 310.2h4.3v8.6h-4.3zM315.1 310.2h4.3v8.6h-4.3zM327.4 310.2h4.3v8.6h-4.3zM351.9 310.2h4.3v8.6h-4.3zM380.5 310.2h4.3v8.6h-4.3zM364.1 318.6h4.3v8.6h-4.3zM400.9 318.6h4.3v8.6h-4.3zM204.9 335.3h4.3v8.6h-4.3zM294.7 335.3h4.3v8.6h-4.3zM315.1 335.3h4.3v8.6h-4.3zM376.4 335.3h4.3v8.6h-4.3zM266.2 343.7h4.3v8.6h-4.3zM347.8 343.7h4.3v8.6h-4.3zM437.6 343.7h8.4v8.6h-8.4zM478.4 343.7h4.3v8.6h-4.3zM507.0 343.7h4.3v8.6h-4.3zM307.0 352.1h4.3v8.6h-4.3zM523.3 352.1h8.4v8.6h-8.4zM388.6 360.5h4.3v8.6h-4.3zM184.5 368.9h4.3v8.6h-4.3zM294.7 368.9h4.3v8.6h-4.3zM347.8 368.9h4.3v8.6h-4.3zM515.2 368.9h4.3v8.6h-4.3zM180.4 377.2h4.3v8.6h-4.3zM262.1 377.2h4.3v8.6h-4.3zM400.9 385.6h4.3v8.6h-4.3z" fill="#c2c2e3"/>
<path d="M176.4 142.6h4.3v8.6h-4.3zM188.6 142.6h4.3v8.6h-4.3zM209.0 142.6h4.3v8.6h-4.3zM270.2 142.6h4.3v8.6h-4.3zM278.4 142.6h4.3v8.6h-4.3zM286.6 142.6h4.3v8.6h-4.3zM302.9 142.6h8.4v8.6h-8.4zM323.3 142.6h4.3v8.6h-4.3zM380.5 142.6h4.3v8.6h-4.3zM400.9 142.6h4.3v8.6h-4.3zM592.7 142.6h4.3v8.6h-4.3zM176.4 151.0h4.3v8.6h-4.3zM188.6 151.0h4.3v8.6h-4.3zM229.4 151.0h4.3v8.6h-4.3zM364.1 151.0h4.3v8.6h-4.3zM372.3 151.0h4.3v8.6h-4.3zM388.6 151.0h4.3v8.6h-4.3zM413.1 151.0h4.3v8.6h-4.3zM490.7 151.0h4.3v8.6h-4.3zM531.5 151.0h4.3v8.6h-4.3zM568.2 151.0h8.4v8.6h-8.4zM294.7 159.4h4.3v8.6h-4.3zM421.3 159.4h4.3v8.6h-4.3zM482.5 159.4h4.3v8.6h-4.3zM502.9 159.4h4.3v8.6h-4.3zM523.3 159.4h4.3v8.6h-4.3zM547.8 159.4h4.3v8.6h-4.3zM429.4 176.1h4.3v8.6h-4.3zM437.6 176.1h4.3v8.6h-4.3zM470.3 176.1h4.3v8.6h-4.3zM527.4 176.1h4.3v8.6h-4.3zM535.6 176.1h4.3v8.6h-4.3zM551.9 176.1h4.3v8.6h-4.3zM560.1 176.1h4.3v8.6h-4.3zM564.1 184.5h4.3v8.6h-4.3zM515.2 192.9h4.3v8.6h-4.3zM576.4 192.9h4.3v8.6h-4.3zM421.3 201.3h4.3v8.6h-4.3zM466.2 201.3h4.3v8.6h-4.3zM478.4 201.3h4.3v8.6h-4.3zM511.1 201.3h4.3v8.6h-4.3zM445.8 209.6h4.3v8.6h-4.3zM486.6 209.6h4.3v8.6h-4.3zM515.2 209.6h4.3v8.6h-4.3zM172.3 218.0h4.3v8.6h-4.3zM180.4 218.0h4.3v8.6h-4.3zM196.8 218.0h8.4v8.6h-8.4zM225.3 218.0h8.4v8.6h-8.4zM245.8 218.0h4.3v8.6h-4.3zM253.9 218.0h4.3v8.6h-4.3zM286.6 218.0h4.3v8.6h-4.3zM311.1 218.0h4.3v8.6h-4.3zM425.4 218.0h8.4v8.6h-8.4zM445.8 218.0h4.3v8.6h-4.3zM466.2 218.0h4.3v8.6h-4.3zM482.5 218.0h4.3v8.6h-4.3zM494.8 218.0h4.3v8.6h-4.3zM515.2 218.0h4.3v8.6h-4.3zM221.3 226.4h8.4v8.6h-8.4zM486.6 226.4h4.3v8.6h-4.3zM568.2 226.4h8.4v8.6h-8.4zM425.4 234.8h4.3v8.6h-4.3zM441.7 234.8h8.4v8.6h-8.4zM470.3 234.8h8.4v8.6h-8.4zM511.1 234.8h4.3v8.6h-4.3zM519.2 234.8h4.3v8.6h-4.3zM547.8 234.8h4.3v8.6h-4.3zM592.7 234.8h4.3v8.6h-4.3zM225.3 243.2h4.3v8.6h-4.3zM462.1 243.2h4.3v8.6h-4.3zM478.4 243.2h4.3v8.6h-4.3zM486.6 243.2h4.3v8.6h-4.3zM498.8 243.2h4.3v8.6h-4.3zM519.2 243.2h4.3v8.6h-4.3zM527.4 243.2h4.3v8.6h-4.3zM441.7 251.5h4.3v8.6h-4.3zM453.9 251.5h4.3v8.6h-4.3zM470.3 251.5h4.3v8.6h-4.3zM482.5 251.5h4.3v8.6h-4.3zM498.8 251.5h4.3v8.6h-4.3zM539.7 251.5h4.3v8.6h-4.3zM200.9 259.9h4.3v8.6h-4.3zM237.6 259.9h4.3v8.6h-4.3zM486.6 259.9h8.4v8.6h-8.4zM539.7 259.9h4.3v8.6h-4.3zM441.7 268.3h4.3v8.6h-4.3zM449.9 268.3h4.3v8.6h-4.3zM474.3 268.3h4.3v8.6h-4.3zM266.2 276.7h4.3v8.6h-4.3zM298.8 276.7h4.3v8.6h-4.3zM413.1 276.7h4.3v8.6h-4.3zM560.1 276.7h4.3v8.6h-4.3zM172.3 285.1h4.3v8.6h-4.3zM196.8 285.1h4.3v8.6h-4.3zM213.1 285.1h4.3v8.6h-4.3zM249.8 285.1h4.3v8.6h-4.3zM258.0 285.1h4.3v8.6h-4.3zM311.1 285.1h4.3v8.6h-4.3zM388.6 285.1h4.3v8.6h-4.3zM409.0 285.1h4.3v8.6h-4.3zM515.2 285.1h4.3v8.6h-4.3zM176.4 293.4h4.3v8.6h-4.3zM188.6 293.4h4.3v8.6h-4.3zM315.1 293.4h4.3v8.6h-4.3zM323.3 293.4h4.3v8.6h-4.3zM339.6 293.4h4.3v8.6h-4.3zM392.7 293.4h4.3v8.6h-4.3zM192.7 301.8h4.3v8.6h-4.3zM209.0 301.8h8.4v8.6h-8.4zM253.9 301.8h4.3v8.6h-4.3zM274.3 301.8h4.3v8.6h-4.3zM294.7 301.8h4.3v8.6h-4.3zM315.1 301.8h4.3v8.6h-4.3zM343.7 301.8h4.3v8.6h-4.3zM409.0 301.8h4.3v8.6h-4.3zM527.4 301.8h4.3v8.6h-4.3zM535.6 301.8h4.3v8.6h-4.3zM331.5 310.2h4.3v8.6h-4.3zM245.8 327.0h4.3v8.6h-4.3zM258.0 327.0h4.3v8.6h-4.3zM409.0 327.0h4.3v8.6h-4.3zM217.2 335.3h4.3v8.6h-4.3zM298.8 335.3h4.3v8.6h-4.3zM307.0 335.3h4.3v8.6h-4.3zM319.2 335.3h4.3v8.6h-4.3zM364.1 335.3h4.3v8.6h-4.3zM539.7 335.3h4.3v8.6h-4.3zM258.0 343.7h4.3v8.6h-4.3zM294.7 343.7h4.3v8.6h-4.3zM323.3 343.7h4.3v8.6h-4.3zM417.2 343.7h4.3v8.6h-4.3zM368.2 352.1h4.3v8.6h-4.3zM376.4 352.1h4.3v8.6h-4.3zM556.0 352.1h4.3v8.6h-4.3zM384.5 360.5h4.3v8.6h-4.3zM396.8 360.5h4.3v8.6h-4.3zM262.1 368.9h8.4v8.6h-8.4zM409.0 368.9h4.3v8.6h-4.3zM270.2 377.2h4.3v8.6h-4.3zM290.7 377.2h4.3v8.6h-4.3zM380.5 377.2h4.3v8.6h-4.3zM396.8 377.2h4.3v8.6h-4.3zM323.3 385.6h12.4v8.6h-12.4zM417.2 385.6h4.3v8.6h-4.3z" fill="#ffffff"/>
<path d="M168.2 142.6h4.3v8.6h-4.3zM180.4 142.6h8.4v8.6h-8.4zM192.7 142.6h4.3v8.6h-4.3zM213.1 142.6h4.3v8.6h-4.3zM233.5 142.6h4.3v8.6h-4.3zM253.9 142.6h12.4v8.6h-12.4zM298.8 142.6h4.3v8.6h-4.3zM376.4 142.6h4.3v8.6h-4.3zM409.0 142.6h8.4v8.6h-8.4zM576.4 142.6h4.3v8.6h-4.3zM180.4 151.0h4.3v8.6h-4.3zM192.7 151.0h4.3v8.6h-4.3zM204.9 151.0h4.3v8.6h-4.3zM213.1 151.0h4.3v8.6h-4.3zM258.0 151.0h4.3v8.6h-4.3zM278.4 151.0h4.3v8.6h-4.3zM286.6 151.0h4.3v8.6h-4.3zM298.8 151.0h4.3v8.6h-4.3zM311.1 151.0h4.3v8.6h-4.3zM323.3 151.0h4.3v8.6h-4.3zM331.5 151.0h4.3v8.6h-4.3zM384.5 151.0h4.3v8.6h-4.3zM417.2 151.0h4.3v8.6h-4.3zM433.5 151.0h4.3v8.6h-4.3zM441.7 151.0h4.3v8.6h-4.3zM449.9 151.0h4.3v8.6h-4.3zM462.1 151.0h4.3v8.6h-4.3zM482.5 151.0h4.3v8.6h-4.3zM494.8 151.0h4.3v8.6h-4.3zM511.1 151.0h4.3v8.6h-4.3zM519.2 151.0h4.3v8.6h-4.3zM543.7 151.0h20.6v8.6h-20.6zM425.4 159.4h4.3v8.6h-4.3zM445.8 159.4h4.3v8.6h-4.3zM515.2 159.4h4.3v8.6h-4.3zM535.6 159.4h4.3v8.6h-4.3zM556.0 159.4h4.3v8.6h-4.3zM556.0 176.1h4.3v8.6h-4.3zM560.1 184.5h4.3v8.6h-4.3zM498.8 192.9h4.3v8.6h-4.3zM531.5 192.9h4.3v8.6h-4.3zM560.1 192.9h4.3v8.6h-4.3zM425.4 201.3h12.4v8.6h-12.4zM441.7 201.3h16.5v8.6h-16.5zM474.3 201.3h4.3v8.6h-4.3zM507.0 201.3h4.3v8.6h-4.3zM539.7 201.3h4.3v8.6h-4.3zM560.1 201.3h4.3v8.6h-4.3zM421.3 209.6h4.3v8.6h-4.3zM429.4 209.6h4.3v8.6h-4.3zM441.7 209.6h4.3v8.6h-4.3zM490.7 209.6h8.4v8.6h-8.4zM560.1 209.6h4.3v8.6h-4.3zM437.6 218.0h8.4v8.6h-8.4zM453.9 218.0h4.3v8.6h-4.3zM462.1 218.0h4.3v8.6h-4.3zM474.3 218.0h4.3v8.6h-4.3zM498.8 218.0h4.3v8.6h-4.3zM507.0 218.0h4.3v8.6h-4.3zM527.4 218.0h8.4v8.6h-8.4zM543.7 218.0h4.3v8.6h-4.3zM551.9 218.0h4.3v8.6h-4.3zM425.4 226.4h4.3v8.6h-4.3zM437.6 226.4h4.3v8.6h-4.3zM445.8 226.4h4.3v8.6h-4.3zM458.0 226.4h8.4v8.6h-8.4zM474.3 226.4h8.4v8.6h-8.4zM490.7 226.4h20.6v8.6h-20.6zM523.3 226.4h8.4v8.6h-8.4zM543.7 226.4h8.4v8.6h-8.4zM560.1 226.4h4.3v8.6h-4.3zM421.3 234.8h4.3v8.6h-4.3zM437.6 234.8h4.3v8.6h-4.3zM482.5 234.8h4.3v8.6h-4.3zM494.8 234.8h4.3v8.6h-4.3zM515.2 234.8h4.3v8.6h-4.3zM523.3 234.8h4.3v8.6h-4.3zM421.3 243.2h8.4v8.6h-8.4zM437.6 243.2h4.3v8.6h-4.3zM466.2 243.2h8.4v8.6h-8.4zM494.8 243.2h4.3v8.6h-4.3zM502.9 243.2h4.3v8.6h-4.3zM511.1 243.2h4.3v8.6h-4.3zM523.3 243.2h4.3v8.6h-4.3zM535.6 243.2h8.4v8.6h-8.4zM556.0 243.2h4.3v8.6h-4.3zM564.1 243.2h4.3v8.6h-4.3zM572.3 243.2h4.3v8.6h-4.3zM425.4 251.5h8.4v8.6h-8.4zM445.8 251.5h4.3v8.6h-4.3zM494.8 251.5h4.3v8.6h-4.3zM502.9 251.5h4.3v8.6h-4.3zM515.2 251.5h4.3v8.6h-4.3zM523.3 251.5h4.3v8.6h-4.3zM535.6 251.5h4.3v8.6h-4.3zM421.3 259.9h12.4v8.6h-12.4zM437.6 259.9h8.4v8.6h-8.4zM449.9 259.9h4.3v8.6h-4.3zM458.0 259.9h4.3v8.6h-4.3zM466.2 259.9h12.4v8.6h-12.4zM494.8 259.9h8.4v8.6h-8.4zM507.0 259.9h8.4v8.6h-8.4zM519.2 259.9h20.6v8.6h-20.6zM547.8 259.9h4.3v8.6h-4.3zM560.1 259.9h8.4v8.6h-8.4zM200.9 268.3h4.3v8.6h-4.3zM421.3 268.3h8.4v8.6h-8.4zM437.6 268.3h4.3v8.6h-4.3zM445.8 268.3h4.3v8.6h-4.3zM462.1 268.3h8.4v8.6h-8.4zM486.6 268.3h4.3v8.6h-4.3zM502.9 268.3h4.3v8.6h-4.3zM511.1 268.3h12.4v8.6h-12.4zM527.4 268.3h8.4v8.6h-8.4zM551.9 268.3h4.3v8.6h-4.3zM560.1 268.3h4.3v8.6h-4.3zM204.9 276.7h4.3v8.6h-4.3zM213.1 276.7h4.3v8.6h-4.3zM258.0 276.7h4.3v8.6h-4.3zM351.9 276.7h4.3v8.6h-4.3zM376.4 276.7h4.3v8.6h-4.3zM392.7 276.7h4.3v8.6h-4.3zM168.2 285.1h4.3v8.6h-4.3zM188.6 285.1h4.3v8.6h-4.3zM253.9 285.1h4.3v8.6h-4.3zM294.7 285.1h4.3v8.6h-4.3zM319.2 285.1h4.3v8.6h-4.3zM368.2 285.1h4.3v8.6h-4.3zM380.5 285.1h4.3v8.6h-4.3zM168.2 293.4h4.3v8.6h-4.3zM192.7 293.4h4.3v8.6h-4.3zM204.9 293.4h4.3v8.6h-4.3zM213.1 293.4h4.3v8.6h-4.3zM241.7 293.4h4.3v8.6h-4.3zM249.8 293.4h4.3v8.6h-4.3zM282.5 293.4h8.4v8.6h-8.4zM302.9 293.4h4.3v8.6h-4.3zM319.2 293.4h4.3v8.6h-4.3zM327.4 293.4h4.3v8.6h-4.3zM335.6 293.4h4.3v8.6h-4.3zM343.7 293.4h4.3v8.6h-4.3zM351.9 293.4h4.3v8.6h-4.3zM396.8 293.4h4.3v8.6h-4.3zM560.1 293.4h4.3v8.6h-4.3zM225.3 301.8h4.3v8.6h-4.3zM245.8 301.8h4.3v8.6h-4.3zM262.1 301.8h12.4v8.6h-12.4zM319.2 301.8h4.3v8.6h-4.3zM335.6 301.8h4.3v8.6h-4.3zM351.9 301.8h4.3v8.6h-4.3zM560.1 301.8h4.3v8.6h-4.3zM274.3 310.2h4.3v8.6h-4.3zM209.0 318.6h4.3v8.6h-4.3zM217.2 318.6h4.3v8.6h-4.3zM245.8 318.6h4.3v8.6h-4.3zM262.1 318.6h4.3v8.6h-4.3zM278.4 318.6h4.3v8.6h-4.3zM368.2 318.6h4.3v8.6h-4.3zM376.4 318.6h4.3v8.6h-4.3zM417.2 318.6h4.3v8.6h-4.3zM249.8 327.0h4.3v8.6h-4.3zM364.1 327.0h4.3v8.6h-4.3zM417.2 327.0h4.3v8.6h-4.3zM302.9 335.3h4.3v8.6h-4.3zM327.4 335.3h4.3v8.6h-4.3zM335.6 335.3h4.3v8.6h-4.3zM384.5 335.3h4.3v8.6h-4.3zM405.0 335.3h4.3v8.6h-4.3zM413.1 335.3h4.3v8.6h-4.3zM262.1 343.7h4.3v8.6h-4.3zM298.8 343.7h4.3v8.6h-4.3zM307.0 343.7h8.4v8.6h-8.4zM343.7 343.7h4.3v8.6h-4.3zM368.2 343.7h4.3v8.6h-4.3zM376.4 343.7h4.3v8.6h-4.3zM396.8 343.7h12.4v8.6h-12.4zM413.1 343.7h4.3v8.6h-4.3zM298.8 352.1h4.3v8.6h-4.3zM396.8 352.1h4.3v8.6h-4.3zM409.0 352.1h4.3v8.6h-4.3zM368.2 360.5h4.3v8.6h-4.3zM413.1 360.5h4.3v8.6h-4.3zM364.1 368.9h8.4v8.6h-8.4zM396.8 368.9h4.3v8.6h-4.3zM417.2 368.9h4.3v8.6h-4.3zM266.2 377.2h4.3v8.6h-4.3zM311.1 377.2h4.3v8.6h-4.3zM319.2 377.2h4.3v8.6h-4.3zM327.4 377.2h4.3v8.6h-4.3zM339.6 377.2h4.3v8.6h-4.3zM364.1 377.2h4.3v8.6h-4.3zM372.3 377.2h4.3v8.6h-4.3zM405.0 377.2h8.4v8.6h-8.4zM311.1 385.6h4.3v8.6h-4.3zM319.2 385.6h4.3v8.6h-4.3zM392.7 385.6h4.3v8.6h-4.3zM409.0 385.6h8.4v8.6h-8.4z" fill="#e8cccc"/>
<path d="M172.3 142.6h4.3v8.6h-4.3zM196.8 142.6h12.4v8.6h-12.4zM221.3 142.6h12.4v8.6h-12.4zM237.6 142.6h4.3v8.6h-4.3zM315.1 142.6h4.3v8.6h-4.3zM331.5 142.6h8.4v8.6h-8.4zM572.3 142.6h4.3v8.6h-4.3zM196.8 151.0h4.3v8.6h-4.3zM209.0 151.0h4.3v8.6h-4.3zM221.3 151.0h8.4v8.6h-8.4zM270.2 151.0h4.3v8.6h-4.3zM282.5 151.0h4.3v8.6h-4.3zM290.7 151.0h4.3v8.6h-4.3zM315.1 151.0h8.4v8.6h-8.4zM335.6 151.0h4.3v8.6h-4.3zM347.8 151.0h4.3v8.6h-4.3zM356.0 151.0h4.3v8.6h-4.3zM376.4 151.0h8.4v8.6h-8.4zM396.8 151.0h12.4v8.6h-12.4zM425.4 151.0h8.4v8.6h-8.4zM437.6 151.0h4.3v8.6h-4.3zM445.8 151.0h4.3v8.6h-4.3zM453.9 151.0h8.4v8.6h-8.4zM466.2 151.0h8.4v8.6h-8.4zM478.4 151.0h4.3v8.6h-4.3zM486.6 151.0h4.3v8.6h-4.3zM498.8 151.0h12.4v8.6h-12.4zM515.2 151.0h4.3v8.6h-4.3zM527.4 151.0h4.3v8.6h-4.3zM535.6 151.0h4.3v8.6h-4.3zM274.3 159.4h4.3v8.6h-4.3zM364.1 159.4h12.4v8.6h-12.4zM384.5 159.4h4.3v8.6h-4.3zM396.8 159.4h12.4v8.6h-12.4zM560.1 159.4h8.4v8.6h-8.4zM572.3 176.1h8.4v8.6h-8.4zM592.7 184.5h4.3v8.6h-4.3zM409.0 201.3h4.3v8.6h-4.3zM458.0 201.3h4.3v8.6h-4.3zM482.5 201.3h4.3v8.6h-4.3zM502.9 201.3h4.3v8.6h-4.3zM425.4 209.6h4.3v8.6h-4.3zM433.5 209.6h4.3v8.6h-4.3zM449.9 209.6h12.4v8.6h-12.4zM502.9 209.6h8.4v8.6h-8.4zM421.3 218.0h4.3v8.6h-4.3zM433.5 218.0h4.3v8.6h-4.3zM458.0 218.0h4.3v8.6h-4.3zM470.3 218.0h4.3v8.6h-4.3zM478.4 218.0h4.3v8.6h-4.3zM502.9 218.0h4.3v8.6h-4.3zM539.7 218.0h4.3v8.6h-4.3zM560.1 218.0h4.3v8.6h-4.3zM421.3 226.4h4.3v8.6h-4.3zM429.4 226.4h8.4v8.6h-8.4zM441.7 226.4h4.3v8.6h-4.3zM449.9 226.4h8.4v8.6h-8.4zM466.2 226.4h8.4v8.6h-8.4zM482.5 226.4h4.3v8.6h-4.3zM511.1 226.4h8.4v8.6h-8.4zM551.9 226.4h8.4v8.6h-8.4zM433.5 234.8h4.3v8.6h-4.3zM453.9 234.8h4.3v8.6h-4.3zM466.2 234.8h4.3v8.6h-4.3zM478.4 234.8h4.3v8.6h-4.3zM502.9 234.8h4.3v8.6h-4.3zM527.4 234.8h4.3v8.6h-4.3zM535.6 234.8h8.4v8.6h-8.4zM560.1 234.8h8.4v8.6h-8.4zM429.4 243.2h8.4v8.6h-8.4zM445.8 243.2h4.3v8.6h-4.3zM482.5 243.2h4.3v8.6h-4.3zM490.7 243.2h4.3v8.6h-4.3zM515.2 243.2h4.3v8.6h-4.3zM580.5 243.2h4.3v8.6h-4.3zM421.3 251.5h4.3v8.6h-4.3zM433.5 251.5h8.4v8.6h-8.4zM556.0 251.5h4.3v8.6h-4.3zM433.5 259.9h4.3v8.6h-4.3zM445.8 259.9h4.3v8.6h-4.3zM453.9 259.9h4.3v8.6h-4.3zM462.1 259.9h4.3v8.6h-4.3zM482.5 259.9h4.3v8.6h-4.3zM502.9 259.9h4.3v8.6h-4.3zM515.2 259.9h4.3v8.6h-4.3zM429.4 268.3h8.4v8.6h-8.4zM458.0 268.3h4.3v8.6h-4.3zM470.3 268.3h4.3v8.6h-4.3zM478.4 268.3h8.4v8.6h-8.4zM498.8 268.3h4.3v8.6h-4.3zM507.0 268.3h4.3v8.6h-4.3zM523.3 268.3h4.3v8.6h-4.3zM535.6 268.3h4.3v8.6h-4.3zM543.7 268.3h4.3v8.6h-4.3zM564.1 268.3h4.3v8.6h-4.3zM233.5 276.7h4.3v8.6h-4.3zM245.8 276.7h4.3v8.6h-4.3zM262.1 276.7h4.3v8.6h-4.3zM278.4 276.7h4.3v8.6h-4.3zM290.7 276.7h4.3v8.6h-4.3zM311.1 276.7h4.3v8.6h-4.3zM323.3 276.7h4.3v8.6h-4.3zM372.3 276.7h4.3v8.6h-4.3zM380.5 276.7h8.4v8.6h-8.4zM409.0 276.7h4.3v8.6h-4.3zM209.0 285.1h4.3v8.6h-4.3zM233.5 285.1h8.4v8.6h-8.4zM298.8 285.1h4.3v8.6h-4.3zM315.1 285.1h4.3v8.6h-4.3zM323.3 285.1h20.6v8.6h-20.6zM384.5 285.1h4.3v8.6h-4.3zM396.8 285.1h12.4v8.6h-12.4zM180.4 293.4h8.4v8.6h-8.4zM196.8 293.4h4.3v8.6h-4.3zM209.0 293.4h4.3v8.6h-4.3zM217.2 293.4h4.3v8.6h-4.3zM225.3 293.4h8.4v8.6h-8.4zM278.4 293.4h4.3v8.6h-4.3zM298.8 293.4h4.3v8.6h-4.3zM307.0 293.4h8.4v8.6h-8.4zM331.5 293.4h4.3v8.6h-4.3zM347.8 293.4h4.3v8.6h-4.3zM286.6 301.8h4.3v8.6h-4.3zM323.3 301.8h4.3v8.6h-4.3zM221.3 310.2h8.4v8.6h-8.4zM282.5 310.2h8.4v8.6h-8.4zM343.7 310.2h8.4v8.6h-8.4zM213.1 318.6h4.3v8.6h-4.3zM249.8 318.6h4.3v8.6h-4.3zM258.0 318.6h4.3v8.6h-4.3zM266.2 318.6h4.3v8.6h-4.3zM327.4 318.6h4.3v8.6h-4.3zM372.3 318.6h4.3v8.6h-4.3zM380.5 318.6h8.4v8.6h-8.4zM409.0 318.6h8.4v8.6h-8.4zM262.1 327.0h4.3v8.6h-4.3zM368.2 327.0h4.3v8.6h-4.3zM237.6 335.3h8.4v8.6h-8.4zM323.3 335.3h4.3v8.6h-4.3zM343.7 335.3h4.3v8.6h-4.3zM351.9 335.3h8.4v8.6h-8.4zM380.5 335.3h4.3v8.6h-4.3zM400.9 335.3h4.3v8.6h-4.3zM270.2 343.7h12.4v8.6h-12.4zM290.7 343.7h4.3v8.6h-4.3zM319.2 343.7h4.3v8.6h-4.3zM327.4 343.7h4.3v8.6h-4.3zM335.6 343.7h8.4v8.6h-8.4zM351.9 343.7h4.3v8.6h-4.3zM364.1 343.7h4.3v8.6h-4.3zM372.3 343.7h4.3v8.6h-4.3zM380.5 343.7h8.4v8.6h-8.4zM409.0 343.7h4.3v8.6h-4.3zM294.7 352.1h4.3v8.6h-4.3zM302.9 352.1h4.3v8.6h-4.3zM400.9 352.1h4.3v8.6h-4.3zM266.2 360.5h4.3v8.6h-4.3zM372.3 360.5h4.3v8.6h-4.3zM409.0 360.5h4.3v8.6h-4.3zM307.0 368.9h4.3v8.6h-4.3zM323.3 368.9h4.3v8.6h-4.3zM372.3 368.9h4.3v8.6h-4.3zM392.7 368.9h4.3v8.6h-4.3zM400.9 368.9h8.4v8.6h-8.4zM315.1 377.2h4.3v8.6h-4.3zM331.5 377.2h4.3v8.6h-4.3zM368.2 377.2h4.3v8.6h-4.3zM376.4 377.2h4.3v8.6h-4.3zM384.5 377.2h4.3v8.6h-4.3zM392.7 377.2h4.3v8.6h-4.3zM413.1 377.2h4.3v8.6h-4.3zM315.1 385.6h4.3v8.6h-4.3zM368.2 385.6h8.4v8.6h-8.4zM380.5 385.6h8.4v8.6h-8.4zM396.8 385.6h4.3v8.6h-4.3zM405.0 385.6h4.3v8.6h-4.3z" fill="#cb8c8c"/>
<path d="M319.2 142.6h4.3v8.6h-4.3zM429.4 142.6h8.4v8.6h-8.4zM453.9 142.6h8.4v8.6h-8.4zM470.3 142.6h4.3v8.6h-4.3zM478.4 142.6h4.3v8.6h-4.3zM486.6 142.6h8.4v8.6h-8.4zM502.9 142.6h4.3v8.6h-4.3zM511.1 142.6h4.3v8.6h-4.3zM523.3 142.6h4.3v8.6h-4.3zM531.5 142.6h4.3v8.6h-4.3zM539.7 142.6h20.6v8.6h-20.6zM568.2 142.6h4.3v8.6h-4.3zM241.7 151.0h4.3v8.6h-4.3zM274.3 151.0h4.3v8.6h-4.3zM294.7 151.0h4.3v8.6h-4.3zM302.9 151.0h8.4v8.6h-8.4zM339.6 151.0h8.4v8.6h-8.4zM351.9 151.0h4.3v8.6h-4.3zM368.2 151.0h4.3v8.6h-4.3zM421.3 151.0h4.3v8.6h-4.3zM474.3 151.0h4.3v8.6h-4.3zM523.3 151.0h4.3v8.6h-4.3zM539.7 151.0h4.3v8.6h-4.3zM196.8 159.4h8.4v8.6h-8.4zM241.7 159.4h4.3v8.6h-4.3zM270.2 159.4h4.3v8.6h-4.3zM282.5 159.4h12.4v8.6h-12.4zM302.9 159.4h8.4v8.6h-8.4zM315.1 159.4h12.4v8.6h-12.4zM331.5 159.4h4.3v8.6h-4.3zM339.6 159.4h8.4v8.6h-8.4zM351.9 159.4h4.3v8.6h-4.3zM380.5 159.4h4.3v8.6h-4.3zM388.6 159.4h8.4v8.6h-8.4zM413.1 159.4h8.4v8.6h-8.4zM584.6 167.7h4.3v8.6h-4.3zM531.5 176.1h4.3v8.6h-4.3zM588.6 176.1h8.4v8.6h-8.4zM543.7 184.5h4.3v8.6h-4.3zM551.9 184.5h4.3v8.6h-4.3zM588.6 184.5h4.3v8.6h-4.3zM511.1 192.9h4.3v8.6h-4.3zM592.7 192.9h4.3v8.6h-4.3zM413.1 201.3h8.4v8.6h-8.4zM511.1 209.6h4.3v8.6h-4.3zM556.0 209.6h4.3v8.6h-4.3zM498.8 234.8h4.3v8.6h-4.3zM556.0 234.8h4.3v8.6h-4.3zM441.7 243.2h4.3v8.6h-4.3zM449.9 243.2h4.3v8.6h-4.3zM531.5 243.2h4.3v8.6h-4.3zM507.0 251.5h4.3v8.6h-4.3zM564.1 251.5h4.3v8.6h-4.3zM494.8 268.3h4.3v8.6h-4.3zM539.7 268.3h4.3v8.6h-4.3zM237.6 276.7h8.4v8.6h-8.4zM249.8 276.7h4.3v8.6h-4.3zM274.3 276.7h4.3v8.6h-4.3zM286.6 276.7h4.3v8.6h-4.3zM307.0 276.7h4.3v8.6h-4.3zM315.1 276.7h4.3v8.6h-4.3zM364.1 276.7h8.4v8.6h-8.4zM388.6 276.7h4.3v8.6h-4.3zM400.9 276.7h4.3v8.6h-4.3zM417.2 276.7h4.3v8.6h-4.3zM241.7 285.1h4.3v8.6h-4.3zM302.9 285.1h4.3v8.6h-4.3zM343.7 285.1h12.4v8.6h-12.4zM417.2 285.1h4.3v8.6h-4.3zM196.8 301.8h4.3v8.6h-4.3zM347.8 301.8h4.3v8.6h-4.3zM253.9 318.6h4.3v8.6h-4.3zM351.9 327.0h4.3v8.6h-4.3zM360.0 335.3h4.3v8.6h-4.3zM302.9 343.7h4.3v8.6h-4.3zM315.1 343.7h4.3v8.6h-4.3zM331.5 343.7h4.3v8.6h-4.3zM388.6 343.7h8.4v8.6h-8.4zM364.1 352.1h4.3v8.6h-4.3zM372.3 352.1h4.3v8.6h-4.3zM380.5 352.1h4.3v8.6h-4.3zM392.7 352.1h4.3v8.6h-4.3zM413.1 352.1h4.3v8.6h-4.3zM400.9 360.5h4.3v8.6h-4.3zM319.2 368.9h4.3v8.6h-4.3zM376.4 368.9h16.5v8.6h-16.5zM413.1 368.9h4.3v8.6h-4.3zM323.3 377.2h4.3v8.6h-4.3zM388.6 377.2h4.3v8.6h-4.3zM364.1 385.6h4.3v8.6h-4.3z" fill="#ab4747"/>
<path d="M421.3 142.6h8.4v8.6h-8.4zM437.6 142.6h16.5v8.6h-16.5zM462.1 142.6h8.4v8.6h-8.4zM474.3 142.6h4.3v8.6h-4.3zM482.5 142.6h4.3v8.6h-4.3zM494.8 142.6h8.4v8.6h-8.4zM507.0 142.6h4.3v8.6h-4.3zM515.2 142.6h8.4v8.6h-8.4zM527.4 142.6h4.3v8.6h-4.3zM535.6 142.6h4.3v8.6h-4.3zM560.1 142.6h8.4v8.6h-8.4zM168.2 159.4h28.8v8.6h-28.8zM204.9 159.4h24.7v8.6h-24.7zM233.5 159.4h8.4v8.6h-8.4zM245.8 159.4h24.7v8.6h-24.7zM278.4 159.4h4.3v8.6h-4.3zM298.8 159.4h4.3v8.6h-4.3zM311.1 159.4h4.3v8.6h-4.3zM327.4 159.4h4.3v8.6h-4.3zM335.6 159.4h4.3v8.6h-4.3zM347.8 159.4h4.3v8.6h-4.3zM376.4 159.4h4.3v8.6h-4.3zM409.0 159.4h4.3v8.6h-4.3zM568.2 167.7h16.5v8.6h-16.5zM584.6 176.1h4.3v8.6h-4.3zM547.8 184.5h4.3v8.6h-4.3zM486.6 234.8h8.4v8.6h-8.4zM453.9 243.2h4.3v8.6h-4.3zM270.2 276.7h4.3v8.6h-4.3zM282.5 276.7h4.3v8.6h-4.3zM294.7 276.7h4.3v8.6h-4.3zM360.0 276.7h4.3v8.6h-4.3zM396.8 276.7h4.3v8.6h-4.3zM200.9 293.4h4.3v8.6h-4.3zM339.6 301.8h4.3v8.6h-4.3zM229.4 310.2h4.3v8.6h-4.3zM356.0 327.0h4.3v8.6h-4.3zM290.7 352.1h4.3v8.6h-4.3zM405.0 352.1h4.3v8.6h-4.3z" fill="#8b0000"/>
<path d="M339.6 142.6h16.5v8.6h-16.5zM564.1 385.6h4.3v8.6h-4.3z" fill="#f6ebeb"/>
<path d="M168.30 142.38V394.10M172.38 142.38V394.10M176.46 142.38V394.10M180.55 142.38V394.10M184.63 142.38V394.10M188.71 142.38V394.10M192.79 142.38V394.10M196.87 142.38V394.10M200.96 142.38V394.10M205.04 142.38V394.10M209.12 142.38V394.10M213.20 142.38V394.10M217.28 142.38V394.10M221.36 142.38V394.10M225.45 142.38V394.10M229.53 142.38V394.10M233.61 142.38V394.10M237.69 142.38V394.10M241.77 142.38V394.10M245.86 142.38V394.10M249.94 142.38V394.10M254.02 142.38V394.10M258.10 142.38V394.10M262.18 142.38V394.10M266.27 142.38V394.10M270.35 142.38V394.10M274.43 142.38V394.10M278.51 142.38V394.10M282.59 142.38V394.10M286.68 142.38V394.10M290.76 142.38V394.10M294.84 142.38V394.10M298.92 142.38V394.10M303.00 142.38V394.10M307.08 142.38V394.10M311.17 142.38V394.10M315.25 142.38V394.10M319.33 142.38V394.10M323.41 142.38V394.10M327.49 142.38V394.10M331.58 142.38V394.10M335.66 142.38V394.10M339.74 142.38V394.10M343.82 142.38V394.10M347.90 142.38V394.10M351.99 142.38V394.10M356.07 142.38V394.10M360.15 142.38V394.10M364.23 142.38V394.10M368.31 142.38V394.10M372.40 142.38V394.10M376.48 142.38V394.10M380.56 142.38V394.10M384.64 142.38V394.10M388.72 142.38V394.10M392.80 142.38V394.10M396.89 142.38V394.10M400.97 142.38V394.10M405.05 142.38V394.10M409.13 142.38V394.10M413.21 142.38V394.10M417.30 142.38V394.10M421.38 142.38V394.10M425.46 142.38V394.10M429.54 142.38V394.10M433.62 142.38V394.10M437.71 142.38V394.10M441.79 142.38V394.10M445.87 142.38V394.10M449.95 142.38V394.10M454.03 142.38V394.10M458.12 142.38V394.10M462.20 142.38V394.10M466.28 142.38V394.10M470.36 142.38V394.10M474.44 142.38V394.10M478.52 142.38V394.10M482.61 142.38V394.10M486.69 142.38V394.10M490.77 142.38V394.10M494.85 142.38V394.10M498.93 142.38V394.10M503.02 142.38V394.10M507.10 142.38V394.10M511.18 142.38V394.10M515.26 142.38V394.10M519.34 142.38V394.10M523.43 142.38V394.10M527.51 142.38V394.10M531.59 142.38V394.10M535.67 142.38V394.10M539.75 142.38V394.10M543.84 142.38V394.10M547.92 142.38V394.10M552.00 142.38V394.10M556.08 142.38V394.10M560.16 142.38V394.10M564.24 142.38V394.10M568.33 142.38V394.10M572.41 142.38V394.10M576.49 142.38V394.10M580.57 142.38V394.10M584.65 142.38V394.10M588.74 142.38V394.10M592.82 142.38V394.10" stroke="#000008" stroke-width="0.85" fill="none"/>
<path d="M167.88 142.70H596.90M167.88 151.08H596.90M167.88 159.46H596.90M167.88 167.84H596.90M167.88 176.22H596.90M167.88 184.60H596.90M167.88 192.98H596.90M167.88 201.36H596.90M167.88 209.74H596.90M167.88 218.12H596.90M167.88 226.50H596.90M167.88 234.88H596.90M167.88 243.26H596.90M167.88 251.64H596.90M167.88 260.02H596.90M167.88 268.40H596.90M167.88 276.78H596.90M167.88 285.16H596.90M167.88 293.54H596.90M167.88 301.92H596.90M167.88 310.30H596.90M167.88 318.68H596.90M167.88 327.06H596.90M167.88 335.44H596.90M167.88 343.82H596.90M167.88 352.20H596.90M167.88 360.58H596.90M167.88 368.96H596.90M167.88 377.34H596.90M167.88 385.72H596.90" stroke="#000008" stroke-width="0.65" fill="none"/>
<rect x="168.30" y="125.25" width="73.52" height="13.6" fill="#ffa500"/>
<rect x="241.77" y="125.25" width="4.13" height="13.6" fill="#a52a2a"/>
<rect x="245.86" y="125.25" width="28.62" height="13.6" fill="#ffa500"/>
<rect x="274.43" y="125.25" width="4.13" height="13.6" fill="#a52a2a"/>
<rect x="278.51" y="125.25" width="12.30" height="13.6" fill="#ffa500"/>
<rect x="290.76" y="125.25" width="20.46" height="13.6" fill="#a52a2a"/>
<rect x="311.17" y="125.25" width="4.13" height="13.6" fill="#ffa500"/>
<rect x="315.25" y="125.25" width="40.87" height="13.6" fill="#a52a2a"/>
<rect x="356.07" y="125.25" width="8.21" height="13.6" fill="#ffa500"/>
<rect x="364.23" y="125.25" width="12.30" height="13.6" fill="#a52a2a"/>
<rect x="376.48" y="125.25" width="4.13" height="13.6" fill="#ffa500"/>
<rect x="380.56" y="125.25" width="40.87" height="13.6" fill="#a52a2a"/>
<rect x="421.38" y="125.25" width="4.13" height="13.6" fill="#add8e6"/>
<rect x="425.46" y="125.25" width="12.30" height="13.6" fill="#0000ff"/>
<rect x="437.71" y="125.25" width="4.13" height="13.6" fill="#add8e6"/>
<rect x="441.79" y="125.25" width="12.30" height="13.6" fill="#0000ff"/>
<rect x="454.03" y="125.25" width="4.13" height="13.6" fill="#add8e6"/>
<rect x="458.12" y="125.25" width="8.21" height="13.6" fill="#0000ff"/>
<rect x="466.28" y="125.25" width="8.21" height="13.6" fill="#add8e6"/>
<rect x="474.44" y="125.25" width="8.21" height="13.6" fill="#0000ff"/>
<rect x="482.61" y="125.25" width="4.13" height="13.6" fill="#add8e6"/>
<rect x="486.69" y="125.25" width="28.62" height="13.6" fill="#0000ff"/>
<rect x="515.26" y="125.25" width="32.71" height="13.6" fill="#add8e6"/>
<rect x="547.92" y="125.25" width="4.13" height="13.6" fill="#0000ff"/>
<rect x="552.00" y="125.25" width="4.13" height="13.6" fill="#add8e6"/>
<rect x="556.08" y="125.25" width="4.13" height="13.6" fill="#0000ff"/>
<rect x="560.16" y="125.25" width="16.38" height="13.6" fill="#add8e6"/>
<rect x="576.49" y="125.25" width="12.30" height="13.6" fill="#0000ff"/>
<rect x="588.74" y="125.25" width="8.21" height="13.6" fill="#add8e6"/>
<path d="M170.34 120.90V93.10H174.42V120.90M172.38 93.10V92.40H178.50V120.90M175.44 92.40V83.90H182.59V120.90M179.01 83.90V78.30H186.67V120.90M190.75 120.90V90.50H194.83V120.90M192.79 90.50V85.40H198.91V120.90M182.84 78.30V73.60H195.85V85.40M189.35 73.60V67.20H203.00V120.90M196.17 67.20V66.70H207.08V120.90M211.16 120.90V82.50H215.24V120.90M213.20 82.50V63.10H219.32V120.90M201.62 66.70V61.90H216.26V63.10M223.41 120.90V93.10H227.49V120.90M225.45 93.10V59.10H231.57V120.90M208.94 61.90V52.40H228.51V59.10M235.65 120.90V67.50H239.73V120.90M237.69 67.50V59.30H243.82V120.90M218.73 52.40V46.80H240.75V59.30M247.90 120.90V97.10H251.98V120.90M249.94 97.10V80.30H256.06V120.90M260.14 120.90V75.60H264.22V120.90M253.00 80.30V67.60H262.18V75.60M257.59 67.60V51.20H268.31V120.90M229.74 46.80V43.40H262.95V51.20M272.39 120.90V71.90H276.47V120.90M274.43 71.90V63.50H280.55V120.90M284.63 120.90V81.40H288.72V120.90M277.49 63.50V58.50H286.68V81.40M292.80 120.90V67.80H296.88V120.90M300.96 120.90V86.60H305.04V120.90M294.84 67.80V61.70H303.00V86.60M298.92 61.70V58.50H309.13V120.90M282.08 58.50V45.60H304.02V58.50M313.21 120.90V72.50H317.29V120.90M321.37 120.90V69.30H325.45V120.90M315.25 72.50V54.40H323.41V69.30M329.54 120.90V63.50H333.62V120.90M319.33 54.40V51.90H331.58V63.50M337.70 120.90V80.30H341.78V120.90M345.86 120.90V75.40H349.94V120.90M339.74 80.30V70.50H347.90V75.40M343.82 70.50V55.30H354.03V120.90M325.45 51.90V48.20H348.92V55.30M293.05 45.60V40.90H337.19V48.20M246.34 43.40V38.30H315.12V40.90M358.11 120.90V43.40H362.19V120.90M280.73 38.30V28.20H360.15V43.40M366.27 120.90V74.90H370.35V120.90M368.31 74.90V66.40H374.44V120.90M378.52 120.90V67.60H382.60V120.90M380.56 67.60V60.70H386.68V120.90M371.37 66.40V56.70H383.62V60.70M390.76 120.90V66.40H394.85V120.90M398.93 120.90V67.60H403.01V120.90M392.80 66.40V55.30H400.97V67.60M377.50 56.70V54.80H396.89V55.30M387.19 54.80V48.20H407.09V120.90M411.17 120.90V62.50H415.26V120.90M397.14 48.20V45.30H413.21V62.50M405.18 45.30V38.30H419.34V120.90M320.44 28.20V21.50H412.26V38.30M423.42 120.90V92.20H427.50V120.90M425.46 92.20V86.30H431.58V120.90M428.52 86.30V83.40H435.66V120.90M439.75 120.90V91.70H443.83V120.90M432.09 83.40V79.40H441.79V91.70M436.94 79.40V78.70H447.91V120.90M451.99 120.90V87.60H456.07V120.90M454.03 87.60V80.70H460.16V120.90M442.43 78.70V77.70H457.09V80.70M464.24 120.90V92.30H468.32V120.90M466.28 92.30V87.60H472.40V120.90M476.48 120.90V88.70H480.57V120.90M469.34 87.60V83.40H478.52V88.70M473.93 83.40V77.40H484.65V120.90M449.76 77.70V73.00H479.29V77.40M488.73 120.90V94.50H492.81V120.90M490.77 94.50V82.50H496.89V120.90M493.83 82.50V78.50H500.98V120.90M464.53 73.00V71.50H497.40V78.50M480.96 71.50V67.10H505.06V120.90M493.01 67.10V64.20H509.14V120.90M513.22 120.90V63.50H517.30V120.90M501.07 64.20V61.70H515.26V63.50M521.38 120.90V74.00H525.47V120.90M523.43 74.00V67.60H529.55V120.90M533.63 120.90V66.70H537.71V120.90M526.49 67.60V59.90H535.67V66.70M508.17 61.70V56.30H531.08V59.90M519.62 56.30V51.50H541.79V120.90M545.88 120.90V81.00H549.96V120.90M547.92 81.00V69.00H554.04V120.90M530.71 51.50V50.40H550.98V69.00M540.84 50.40V41.40H558.12V120.90M549.48 41.40V36.50H562.20V120.90M555.84 36.50V31.00H566.29V120.90M570.37 120.90V76.20H574.45V120.90M572.41 76.20V71.50H578.53V120.90M575.47 71.50V67.60H582.61V120.90M579.04 67.60V58.50H586.70V120.90M590.78 120.90V70.00H594.86V120.90M582.87 58.50V43.10H592.82V70.00M561.06 31.00V25.30H587.84V43.10M366.35 21.50V0.50H574.45V25.30" stroke="#000" stroke-width="0.7" fill="none" stroke-linejoin="miter"/>
<path d="M162.30 146.89H75.00V155.27H162.30M75.00 151.08H28.30V163.65H162.30M162.30 188.79H101.70V197.17H162.30M162.30 180.41H96.40V192.98H101.70M162.30 172.03H88.30V186.69H96.40M162.30 205.55H102.00V213.93H162.30M162.30 264.21H125.80V272.59H162.30M162.30 255.83H115.60V268.40H125.80M162.30 247.45H113.10V262.12H115.60M162.30 239.07H110.50V254.78H113.10M162.30 230.69H102.90V246.93H110.50M162.30 222.31H92.20V238.81H102.90M102.00 209.74H88.70V230.56H92.20M88.30 179.36H70.40V220.15H88.70M162.30 289.35H73.20V297.73H162.30M162.30 306.11H74.40V314.49H162.30M73.20 293.54H67.00V310.30H74.40M162.30 322.87H86.10V331.25H162.30M162.30 381.53H112.50V389.91H162.30M162.30 373.15H106.60V385.72H112.50M162.30 364.77H101.30V379.44H106.60M162.30 356.39H89.70V372.10H101.30M162.30 348.01H81.40V364.25H89.70M162.30 339.63H79.30V356.13H81.40M86.10 327.06H74.50V347.88H79.30M67.00 301.92H60.30V337.47H74.50M162.30 280.97H50.40V319.69H60.30M70.40 199.76H41.00V300.33H50.40M28.30 157.36H0.50V250.04H41.00" stroke="#000" stroke-width="0.7" fill="none"/>
</svg>
<div style="position:absolute;left:0;top:0;width:685px;height:431px;will-change:transform">
<div class="t" style="left:80.6px;top:18.3px;font-size:9.0px;font-weight:bold;transform:translateX(-50%)">Color Key</div>
<div class="t" style="left:28.5px;top:81.5px;font-size:7.2px;transform:translateX(-50%)">&minus;2</div>
<div class="t" style="left:59.3px;top:81.5px;font-size:7.2px;transform:translateX(-50%)">&minus;1</div>
<div class="t" style="left:90.0px;top:81.5px;font-size:7.2px;transform:translateX(-50%)">0</div>
<div class="t" style="left:120.7px;top:81.5px;font-size:7.2px;transform:translateX(-50%)">1</div>
<div class="t" style="left:81.3px;top:94.2px;font-size:7.43px;transform:translateX(-50%)">LOG10 relative abundance</div>
<div class="t" style="left:353px;top:4.0px;font-size:13.5px;transform:translateX(-50%)">A</div>
<div class="t" style="left:586.5px;top:4.0px;font-size:13.5px;transform:translateX(-50%)">B</div>
<div class="t" style="left:22.7px;top:136.2px;font-size:13.5px;transform:translateX(-50%)">1</div>
<div class="t" style="left:33.5px;top:181.5px;font-size:13.5px;transform:translateX(-50%)">2</div>
<div class="t" style="left:33.5px;top:303.5px;font-size:13.5px;transform:translateX(-50%)">3</div>
<div class="rl" style="top:141.89px">Streptococcus</div>
<div class="rl" style="top:150.27px">Veillonella</div>
<div class="rl" style="top:158.65px">Bifidobacterium</div>
<div class="rl" style="top:167.03px">Bacillus</div>
<div class="rl" style="top:175.41px">Acinetobacter</div>
<div class="rl" style="top:183.79px">Pseudomonas</div>
<div class="rl" style="top:192.17px">Caulobacter</div>
<div class="rl" style="top:200.55px">Prevotella</div>
<div class="rl" style="top:208.93px">Neisseria</div>
<div class="rl" style="top:217.31px">Actinomyces</div>
<div class="rl" style="top:225.69px">Granulicatella</div>
<div class="rl" style="top:234.07px">Propionibacterium</div>
<div class="rl" style="top:242.45px">Staphylococcus</div>
<div class="rl" style="top:250.83px">Corynebacterium</div>
<div class="rl" style="top:259.21px">Gemella</div>
<div class="rl" style="top:267.59px">Rothia</div>
<div class="rl" style="top:275.97px">Bacteroides</div>
<div class="rl" style="top:284.35px">Escherichia</div>
<div class="rl" style="top:292.73px">Enterococcus</div>
<div class="rl" style="top:301.11px">Lactobacillus</div>
<div class="rl" style="top:309.49px">Klebsiella</div>
<div class="rl" style="top:317.87px">Collinsella</div>
<div class="rl" style="top:326.25px">Parabacteroides</div>
<div class="rl" style="top:334.63px">Clostridiaceae_uncl.</div>
<div class="rl" style="top:343.01px">Lachnospiraceae_uncl.</div>
<div class="rl" style="top:351.39px">Faecalibacterium</div>
<div class="rl" style="top:359.77px">Ruminococcus</div>
<div class="rl" style="top:368.15px">Blautia</div>
<div class="rl" style="top:376.53px">Anaerostipes</div>
<div class="rl" style="top:384.91px">Roseburia</div>
<svg width="685" height="431" viewBox="0 0 685 431" style="position:absolute;left:0;top:0;text-rendering:geometricPrecision"><g font-family="Liberation Sans, sans-serif" font-size="3.5" font-weight="bold" fill="#000" text-anchor="end">
<text transform="translate(169.64,400.9) rotate(-89.7)" y="1.2">B20_12_Weeks</text>
<text transform="translate(173.72,400.9) rotate(-89.7)" y="1.2">B17_16_Weeks</text>
<text transform="translate(177.80,400.9) rotate(-89.7)" y="1.2">A12_16_Weeks</text>
<text transform="translate(181.89,400.9) rotate(-89.7)" y="1.2">B09_12_Weeks</text>
<text transform="translate(185.97,400.9) rotate(-89.7)" y="1.2">A21_10_Weeks</text>
<text transform="translate(190.05,400.9) rotate(-89.7)" y="1.2">B11_16_Weeks</text>
<text transform="translate(194.13,400.9) rotate(-89.7)" y="1.2">A07_4_Weeks</text>
<text transform="translate(198.21,400.9) rotate(-89.7)" y="1.2">B14_16_Weeks</text>
<text transform="translate(202.30,400.9) rotate(-89.7)" y="1.2">A03_12_Weeks</text>
<text transform="translate(206.38,400.9) rotate(-89.7)" y="1.2">B22_16_Weeks</text>
<text transform="translate(210.46,400.9) rotate(-89.7)" y="1.2">A18_12_Weeks</text>
<text transform="translate(214.54,400.9) rotate(-89.7)" y="1.2">B05_4_Weeks</text>
<text transform="translate(218.62,400.9) rotate(-89.7)" y="1.2">A10_10_Weeks</text>
<text transform="translate(222.71,400.9) rotate(-89.7)" y="1.2">B16_16_Weeks</text>
<text transform="translate(226.79,400.9) rotate(-89.7)" y="1.2">A25_12_Weeks</text>
<text transform="translate(230.87,400.9) rotate(-89.7)" y="1.2">B02_12_Weeks</text>
<text transform="translate(234.95,400.9) rotate(-89.7)" y="1.2">B20_4_Weeks</text>
<text transform="translate(239.03,400.9) rotate(-89.7)" y="1.2">B17_16_Weeks</text>
<text transform="translate(243.12,400.9) rotate(-89.7)" y="1.2">A12_16_Weeks</text>
<text transform="translate(247.20,400.9) rotate(-89.7)" y="1.2">B09_4_Weeks</text>
<text transform="translate(251.28,400.9) rotate(-89.7)" y="1.2">A21_4_Weeks</text>
<text transform="translate(255.36,400.9) rotate(-89.7)" y="1.2">B11_12_Weeks</text>
<text transform="translate(259.44,400.9) rotate(-89.7)" y="1.2">A07_12_Weeks</text>
<text transform="translate(263.52,400.9) rotate(-89.7)" y="1.2">B14_12_Weeks</text>
<text transform="translate(267.61,400.9) rotate(-89.7)" y="1.2">A03_16_Weeks</text>
<text transform="translate(271.69,400.9) rotate(-89.7)" y="1.2">B22_4_Weeks</text>
<text transform="translate(275.77,400.9) rotate(-89.7)" y="1.2">A18_12_Weeks</text>
<text transform="translate(279.85,400.9) rotate(-89.7)" y="1.2">B05_12_Weeks</text>
<text transform="translate(283.93,400.9) rotate(-89.7)" y="1.2">A10_12_Weeks</text>
<text transform="translate(288.02,400.9) rotate(-89.7)" y="1.2">B16_16_Weeks</text>
<text transform="translate(292.10,400.9) rotate(-89.7)" y="1.2">A25_12_Weeks</text>
<text transform="translate(296.18,400.9) rotate(-89.7)" y="1.2">B02_10_Weeks</text>
<text transform="translate(300.26,400.9) rotate(-89.7)" y="1.2">B20_12_Weeks</text>
<text transform="translate(304.34,400.9) rotate(-89.7)" y="1.2">B17_10_Weeks</text>
<text transform="translate(308.43,400.9) rotate(-89.7)" y="1.2">A12_4_Weeks</text>
<text transform="translate(312.51,400.9) rotate(-89.7)" y="1.2">B09_16_Weeks</text>
<text transform="translate(316.59,400.9) rotate(-89.7)" y="1.2">A21_4_Weeks</text>
<text transform="translate(320.67,400.9) rotate(-89.7)" y="1.2">B11_4_Weeks</text>
<text transform="translate(324.75,400.9) rotate(-89.7)" y="1.2">A07_4_Weeks</text>
<text transform="translate(328.84,400.9) rotate(-89.7)" y="1.2">B14_16_Weeks</text>
<text transform="translate(332.92,400.9) rotate(-89.7)" y="1.2">A03_4_Weeks</text>
<text transform="translate(337.00,400.9) rotate(-89.7)" y="1.2">B22_12_Weeks</text>
<text transform="translate(341.08,400.9) rotate(-89.7)" y="1.2">A18_10_Weeks</text>
<text transform="translate(345.16,400.9) rotate(-89.7)" y="1.2">B05_12_Weeks</text>
<text transform="translate(349.24,400.9) rotate(-89.7)" y="1.2">A10_12_Weeks</text>
<text transform="translate(353.33,400.9) rotate(-89.7)" y="1.2">B16_12_Weeks</text>
<text transform="translate(357.41,400.9) rotate(-89.7)" y="1.2">A25_4_Weeks</text>
<text transform="translate(361.49,400.9) rotate(-89.7)" y="1.2">B02_12_Weeks</text>
<text transform="translate(365.57,400.9) rotate(-89.7)" y="1.2">B20_10_Weeks</text>
<text transform="translate(369.65,400.9) rotate(-89.7)" y="1.2">B17_4_Weeks</text>
<text transform="translate(373.74,400.9) rotate(-89.7)" y="1.2">A12_10_Weeks</text>
<text transform="translate(377.82,400.9) rotate(-89.7)" y="1.2">B09_4_Weeks</text>
<text transform="translate(381.90,400.9) rotate(-89.7)" y="1.2">A21_16_Weeks</text>
<text transform="translate(385.98,400.9) rotate(-89.7)" y="1.2">B11_4_Weeks</text>
<text transform="translate(390.06,400.9) rotate(-89.7)" y="1.2">A07_16_Weeks</text>
<text transform="translate(394.15,400.9) rotate(-89.7)" y="1.2">B14_10_Weeks</text>
<text transform="translate(398.23,400.9) rotate(-89.7)" y="1.2">A03_16_Weeks</text>
<text transform="translate(402.31,400.9) rotate(-89.7)" y="1.2">B22_16_Weeks</text>
<text transform="translate(406.39,400.9) rotate(-89.7)" y="1.2">A18_4_Weeks</text>
<text transform="translate(410.47,400.9) rotate(-89.7)" y="1.2">B05_16_Weeks</text>
<text transform="translate(414.56,400.9) rotate(-89.7)" y="1.2">A10_12_Weeks</text>
<text transform="translate(418.64,400.9) rotate(-89.7)" y="1.2">B16_10_Weeks</text>
<text transform="translate(422.72,400.9) rotate(-89.7)" y="1.2">A25_5&#160;&#160;_12Weeks</text>
<text transform="translate(426.80,400.9) rotate(-89.7)" y="1.2">B02_2&#160;&#160;_12Weeks</text>
<text transform="translate(430.88,400.9) rotate(-89.7)" y="1.2">B20_6&#160;&#160;_12Weeks</text>
<text transform="translate(434.96,400.9) rotate(-89.7)" y="1.2">B1_2&#160;&#160;_12Weeks</text>
<text transform="translate(439.05,400.9) rotate(-89.7)" y="1.2">A12_5&#160;&#160;_12Weeks</text>
<text transform="translate(443.13,400.9) rotate(-89.7)" y="1.2">B09_6&#160;&#160;_12Weeks</text>
<text transform="translate(447.21,400.9) rotate(-89.7)" y="1.2">A21_2&#160;&#160;_12Weeks</text>
<text transform="translate(451.29,400.9) rotate(-89.7)" y="1.2">B11_2&#160;&#160;_12Weeks</text>
<text transform="translate(455.37,400.9) rotate(-89.7)" y="1.2">A0_5&#160;&#160;_12Weeks</text>
<text transform="translate(459.46,400.9) rotate(-89.7)" y="1.2">B14_5&#160;&#160;_12Weeks</text>
<text transform="translate(463.54,400.9) rotate(-89.7)" y="1.2">A03_3&#160;&#160;_12Weeks</text>
<text transform="translate(467.62,400.9) rotate(-89.7)" y="1.2">B22_3&#160;&#160;_12Weeks</text>
<text transform="translate(471.70,400.9) rotate(-89.7)" y="1.2">A18_5&#160;&#160;_12Weeks</text>
<text transform="translate(475.78,400.9) rotate(-89.7)" y="1.2">B0_2&#160;&#160;_12Weeks</text>
<text transform="translate(479.87,400.9) rotate(-89.7)" y="1.2">A10_5&#160;&#160;_12Weeks</text>
<text transform="translate(483.95,400.9) rotate(-89.7)" y="1.2">B16_3&#160;&#160;_12Weeks</text>
<text transform="translate(488.03,400.9) rotate(-89.7)" y="1.2">A25_6&#160;&#160;_12Weeks</text>
<text transform="translate(492.11,400.9) rotate(-89.7)" y="1.2">B02_5&#160;&#160;_12Weeks</text>
<text transform="translate(496.19,400.9) rotate(-89.7)" y="1.2">B2_2&#160;&#160;_12Weeks</text>
<text transform="translate(500.28,400.9) rotate(-89.7)" y="1.2">B17_3&#160;&#160;_12Weeks</text>
<text transform="translate(504.36,400.9) rotate(-89.7)" y="1.2">A12_3&#160;&#160;_12Weeks</text>
<text transform="translate(508.44,400.9) rotate(-89.7)" y="1.2">B09_5&#160;&#160;_12Weeks</text>
<text transform="translate(512.52,400.9) rotate(-89.7)" y="1.2">A21_5&#160;&#160;_12Weeks</text>
<text transform="translate(516.60,400.9) rotate(-89.7)" y="1.2">B1_5&#160;&#160;_12Weeks</text>
<text transform="translate(520.68,400.9) rotate(-89.7)" y="1.2">A07_3&#160;&#160;_12Weeks</text>
<text transform="translate(524.77,400.9) rotate(-89.7)" y="1.2">B14_2&#160;&#160;_12Weeks</text>
<text transform="translate(528.85,400.9) rotate(-89.7)" y="1.2">A03_2&#160;&#160;_12Weeks</text>
<text transform="translate(532.93,400.9) rotate(-89.7)" y="1.2">B22_6&#160;&#160;_12Weeks</text>
<text transform="translate(537.01,400.9) rotate(-89.7)" y="1.2">A1_5&#160;&#160;_12Weeks</text>
<text transform="translate(541.09,400.9) rotate(-89.7)" y="1.2">B05_2&#160;&#160;_12Weeks</text>
<text transform="translate(545.18,400.9) rotate(-89.7)" y="1.2">A10_5&#160;&#160;_12Weeks</text>
<text transform="translate(549.26,400.9) rotate(-89.7)" y="1.2">B16_5&#160;&#160;_12Weeks</text>
<text transform="translate(553.34,400.9) rotate(-89.7)" y="1.2">A25_5&#160;&#160;_12Weeks</text>
<text transform="translate(557.42,400.9) rotate(-89.7)" y="1.2">B0_5&#160;&#160;_12Weeks</text>
<text transform="translate(561.50,400.9) rotate(-89.7)" y="1.2">B20_6&#160;&#160;_12Weeks</text>
<text transform="translate(565.59,400.9) rotate(-89.7)" y="1.2">B17_3&#160;&#160;_12Weeks</text>
<text transform="translate(569.67,400.9) rotate(-89.7)" y="1.2">A12_2&#160;&#160;_12Weeks</text>
<text transform="translate(573.75,400.9) rotate(-89.7)" y="1.2">B09_2&#160;&#160;_12Weeks</text>
<text transform="translate(577.83,400.9) rotate(-89.7)" y="1.2">A2_6&#160;&#160;_12Weeks</text>
<text transform="translate(581.91,400.9) rotate(-89.7)" y="1.2">B11_5&#160;&#160;_12Weeks</text>
<text transform="translate(586.00,400.9) rotate(-89.7)" y="1.2">A07_2&#160;&#160;_12Weeks</text>
<text transform="translate(590.08,400.9) rotate(-89.7)" y="1.2">B14_2&#160;&#160;_12Weeks</text>
<text transform="translate(594.16,400.9) rotate(-89.7)" y="1.2">A03_2&#160;&#160;_12Weeks</text>
</g></svg>
</div>
</body></html>
